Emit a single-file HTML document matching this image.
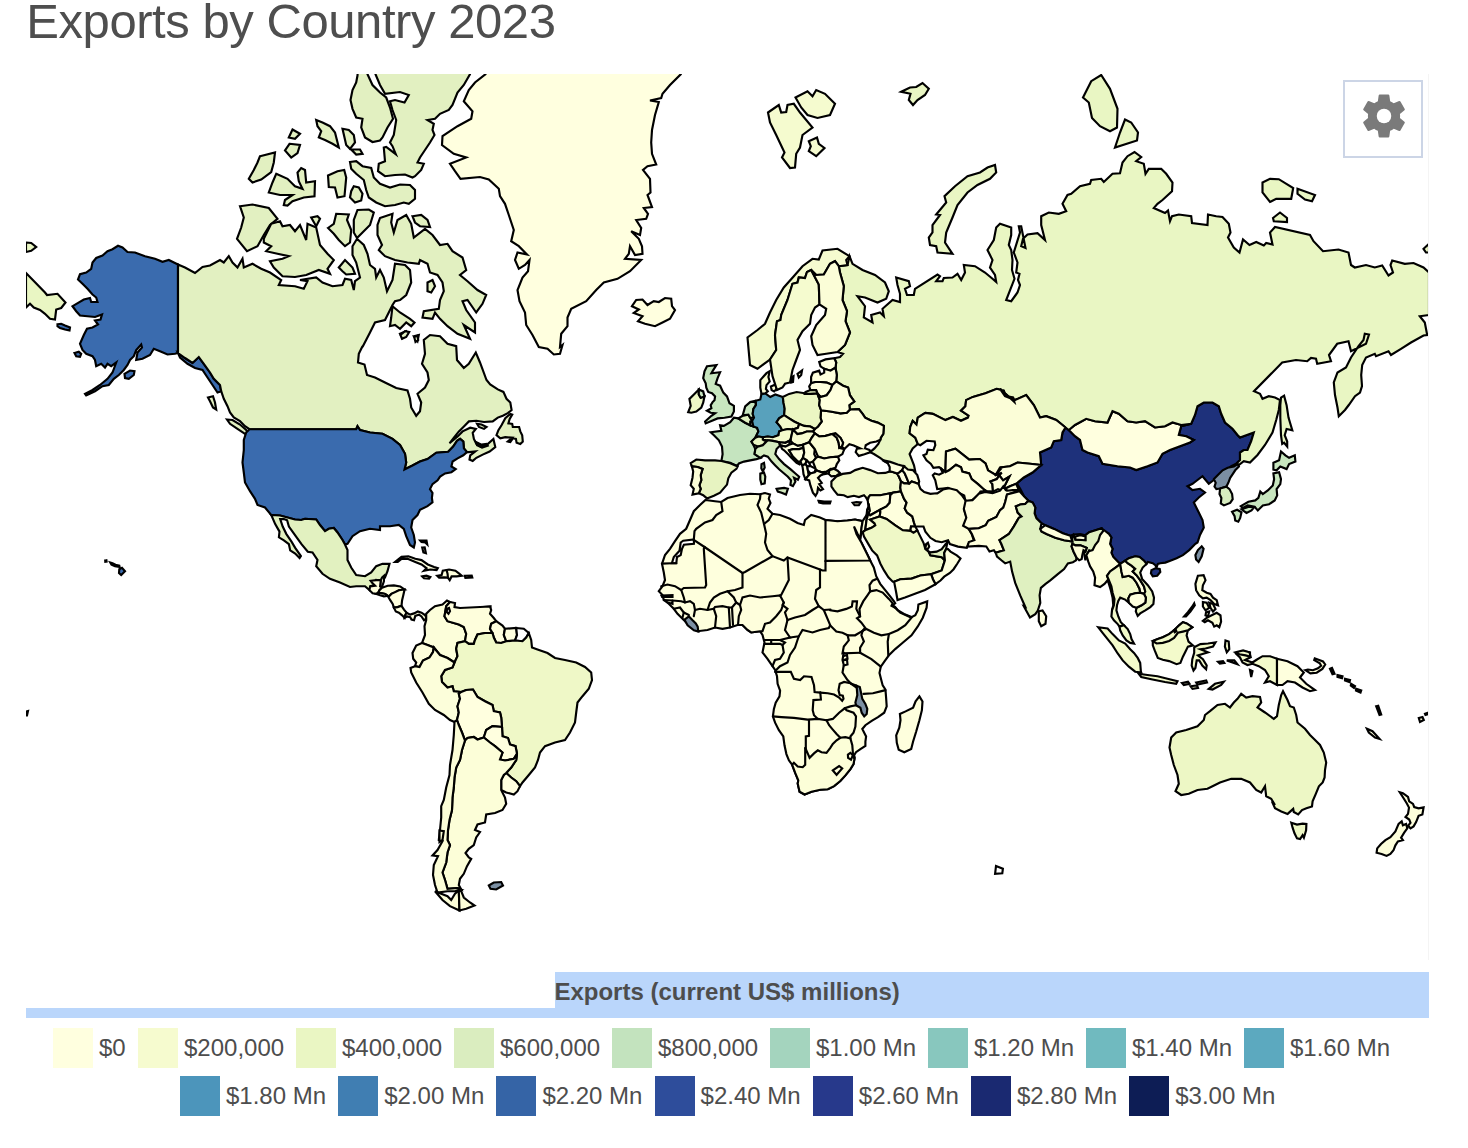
<!DOCTYPE html>
<html><head><meta charset="utf-8"><title>Exports by Country 2023</title>
<style>
html,body{margin:0;padding:0;background:#fff;}
body{width:1468px;height:1148px;position:relative;overflow:hidden;font-family:"Liberation Sans",sans-serif;color:#4d4d4d;}
#title{position:absolute;left:26.3px;top:-6.6px;font-size:49px;line-height:56px;color:#4e4e4e;white-space:nowrap;letter-spacing:-0.44px}
#map{position:absolute;left:0;top:0;width:1468px;height:1148px;}
#map path{stroke:#000;stroke-width:2.15;stroke-linejoin:miter;stroke-miterlimit:4;stroke-linecap:round}
#gear{position:absolute;left:1343px;top:80px;width:76px;height:74px;border:2px solid #ccd5e6;background:#fff;}
#hl1{position:absolute;left:555px;top:972px;width:874px;height:46px;background:#bad6fb}
#hl2{position:absolute;left:26px;top:1008px;width:1403px;height:10px;background:#bad6fb}
#ltitle{position:absolute;left:554.4px;top:978.4px;font-size:24px;line-height:28px;font-weight:bold;color:#4d4d4d;white-space:nowrap}
.sw{position:absolute;width:40px;height:40px}
.lb{position:absolute;font-size:24px;line-height:40px;height:40px;white-space:nowrap;color:#4d4d4d}
#vline{position:absolute;left:1428px;top:74px;width:1px;height:886px;background:#f4f4f4}
</style></head><body>
<div id="title">Exports by Country 2023</div>
<svg id="map" width="1468" height="1148" viewBox="0 0 1468 1148">
<defs><clipPath id="cp"><rect x="26" y="74.1" width="1403" height="890"/></clipPath></defs>
<g clip-path="url(#cp)">
<path d="M178,264.5L168.8,260L162.5,261.8L155,258.8L145,256.2L135,252.5L127.5,252L122.5,247.5L118,245.8L112.5,249.2L107.5,251.2L102.5,255.5L96.2,258L92.5,262.5L91.2,268.8L86.2,272.5L80,274.2L78,279.5L82.5,283.8L87.5,288.8L92.5,294.5L96.2,297.5L97.5,302L91.2,302L90,298L83.8,299.5L72.5,306.2L76.2,311.2L80,315.5L87.5,316.2L95,317L102,314.5L100.5,319.5L95,320.5L98,324.5L92.5,327.5L87,328.8L83.8,335L80,343.8L82.5,350L86.2,353.8L92.5,356.2L95,360L96.2,366.2L101.2,363.8L105,367.5L107.5,363.8L111.2,366.2L116.2,362.5L112.5,372.5L107.5,378.8L100,385L92.5,390L85,393.8L86.2,395.5L95,391.2L102.5,386.2L108.8,385L113.8,378.8L118.8,375L123.8,370L127.5,365L130,360L133.8,356.2L136.2,350L141.2,344.5L142,347.5L137.5,352.5L136.2,360L142.5,358.8L150,355L153.8,348.8L160,351.2L167.5,354.5L175,353.8L178,353Z" fill="#3a6bae"/>
<path d="M178,353L185,358L192.5,363L198.8,357L203.8,363.8L210,372.5L213.8,378.8L220,385L221.2,391.2L217.5,392.5L212.5,385L207.5,377.5L202.5,370L195,368L187.5,363.8L180,357.5Z" fill="#3a6bae"/>
<path d="M124.5,373.8L130,370.5L134.5,371.2L133.8,375L128.8,378.8L125,378Z" fill="#3a6bae"/>
<path d="M74.5,353L78.8,351.8L81.2,353.8L80,356.8L76.2,356.2Z" fill="#3a6bae"/>
<path d="M57.5,324.2L61.2,323.8L65,325.5L70,327.5L69.5,330.5L65,329.5L60,328L57.5,326.2Z" fill="#3a6bae"/>
<path d="M26,273L45,292.5L47,295L57.5,293.8L65.5,302.5L61.2,308L56.2,309.5L55,319.5L50,318.8L45,313.8L40,310L33.8,307.5L30,303.8L26,307.5Z" fill="#e9f6c3"/>
<path d="M26,242.5L31.2,243L36.2,247L31.2,250.8L26,252Z" fill="#e9f6c3"/>
<path d="M227,419.5L232.5,420L240,424.5L246.2,430L249.5,436.2L245,433.8L237.5,428.8L230,423.8Z" fill="#e2f0c1"/>
<path d="M208,397.5L213,396.2L215,402.5L216.2,409.5L213,407.5L210,401.2Z" fill="#e2f0c1"/>
<path d="M357.5,75.5L358.8,55L367.5,55L367.5,74.2L372.5,85L380,92.5L386.2,97.5L390,107.5L393,118.8L387.5,127.5L382.5,137.5L380,140.5L372.5,142L365,137.5L361.2,127.5L362.5,118.8L356.2,117.5L352.5,108.8L350.5,100L352.5,90L356.2,82.5Z" fill="#e2f0c1"/>
<path d="M375.5,74.2L375.5,55L470,55L470,74.2L463.8,85L457.5,92.5L452.5,105L448.8,110L440,113.8L435,118.8L427.5,120L433.8,123.8L432.5,130L434.5,135L430,142.5L425,150L420,157.5L417.5,162.5L423.8,163.8L421.2,170L415,176.2L412.5,177.5L405,174.5L395,175L385,176.2L378,171.2L378.8,163.8L385,161.2L383.8,147.5L386.2,147L395.8,154.2L392.5,146.2L390,142.5L393.8,135L396.2,120L392.5,110L390,101.2L395,100L404.5,102.5L408.8,95L400,92L385,93.8L380,85Z" fill="#e2f0c1"/>
<path d="M350,162L356.2,161.2L362.5,166.2L371.2,168L373.8,177.5L380,183.8L390,187.5L400,184.5L410,185L415,190L415,198.8L408.8,203.8L403.8,202.5L395,205L385,206.2L376.2,202.5L368.8,197.5L366.2,190L363.8,180L356.2,173.8L351.2,168.8Z" fill="#e2f0c1"/>
<path d="M316.2,120L322.5,122.5L330,126.2L335,132.5L338.8,147.5L332.5,143.8L325,140L318.8,137.5L321.2,131.2L317.5,126.2Z" fill="#e2f0c1"/>
<path d="M342.5,128.8L348.8,130L353.8,135L355,142.5L350,148.8L346.2,145L344.5,137.5Z" fill="#e2f0c1"/>
<path d="M351.2,149.5L360,149.5L362.5,153.8L356.2,154.5Z" fill="#e2f0c1"/>
<path d="M292.5,129.5L300,133.8L295,138.8L288.8,137.5Z" fill="#e2f0c1"/>
<path d="M289.5,143.8L300,145L297.5,153L291.2,157.5L285,150.5Z" fill="#e2f0c1"/>
<path d="M260,156.2L275,152.5L273.8,162.5L271.2,172L261.2,179.5L252.5,182.5L248.8,178.8L253.8,170L257.5,162.5Z" fill="#e2f0c1"/>
<path d="M276.2,173.8L287.5,178.8L295,186.2L302.5,188.8L298.8,181.2L297.5,172.5L301.2,168L305,170L306.2,182.5L315,181.2L314.5,196.2L303.8,197.5L292.5,201.2L287.5,205.5L283.8,205L285,200L292.5,195L280,195L268.8,192.5L272.5,182.5Z" fill="#e2f0c1"/>
<path d="M328,175.5L337.5,171.2L344.2,170L346.2,177.5L344.5,196.2L337.5,197.5L335,187.5L328.8,187Z" fill="#e2f0c1"/>
<path d="M353.8,186.2L358.8,187.5L362.5,193.8L361.2,200.5L355,202.5L350,197.5L351.2,191.2Z" fill="#e2f0c1"/>
<path d="M240,206.2L252.5,204.5L268.8,208L277.5,218.8L270,225L263.8,235L257.5,246.2L247,251.2L237,238.8L241.2,227.5L243.8,217.5Z" fill="#e2f0c1"/>
<path d="M263.8,238.8L271.2,223.8L280,221.2L282.5,226.2L290,225L295,231.2L300,225L306.2,240L307.5,223.8L316.2,227.5L320,245L327.5,253.8L333.8,260L327.5,268.8L330,273.8L318.8,270L306.2,275L295,277L282.5,276.2L273.8,267.5L270,261.2L282.5,258.8L288.8,256.2L277.5,253.8L266.2,251.2L271.2,246.2L263.8,242.5Z" fill="#e2f0c1"/>
<path d="M311.2,217.5L317.5,216.2L320,218.8L316.2,226.2Z" fill="#e2f0c1"/>
<path d="M328,228L333.8,223.8L336.2,213.8L348.8,214.5L347,220L351.2,230L350,242.5L345,246.2L338.8,240L333.8,233.8Z" fill="#e2f0c1"/>
<path d="M357.5,210L368.8,209.5L373.8,212.5L370,225L362.5,232.5L357,238L353.8,232.5L353.8,220Z" fill="#e2f0c1"/>
<path d="M338.8,267.5L345,260L352.5,267.5L355,273.8L346.2,274.5L342.5,271.2Z" fill="#e2f0c1"/>
<path d="M380,218L392.5,213.8L391.2,222.5L393.8,232.5L397.5,220L406.2,215L411.2,223.8L413.8,237.5L425,228.8L432.5,235L440,245L447.5,243.8L452.5,251.2L462.5,257.5L466.2,270L460,275L467.5,281.2L477.5,290L486.2,295L482.5,303.8L476.2,312.5L467.5,300L462.5,301.2L466.2,310L475,322.5L475,332.5L463.8,325L470,338.8L457.5,333.8L447.5,326.2L440,318.8L435,312.5L432.5,318.8L422.5,317.5L423.8,311.2L438.8,308.8L440,300L443.8,291.2L442.5,282.5L437.5,275L430,272.5L427.5,263.8L420,260L418.8,263.8L407.5,262.5L395,260L385,256.2L378.8,250L382,245L377.5,235L377.5,225Z" fill="#e2f0c1"/>
<path d="M412.5,216.2L421.2,215L427.5,220L430,227L420,226.2L415,222.5Z" fill="#e2f0c1"/>
<path d="M427.5,282.5L432.5,280L435,286.2L431.2,292.5L427.5,291.2Z" fill="#e2f0c1"/>
<path d="M392.5,306.2L400,312.5L410,318.8L414.5,322.5L411.2,326.2L406.2,322.5L400,328.8L395,325L390,326.2L391.2,317.5Z" fill="#e2f0c1"/>
<path d="M400,333.8L406.2,331.2L407.5,333.8L402.5,338Z" fill="#e2f0c1"/>
<path d="M413.8,336.2L418.8,335L417.5,341.2Z" fill="#e2f0c1"/>
<path d="M178,264.5L185,267.5L195,273L202.5,267L210,265.5L220,260L223.8,262.5L228.8,256.2L232.5,262.5L237.5,267.5L242.5,258.8L243.8,267.5L252.5,263.8L261.2,268.8L270,272.5L281.2,280L278.8,285L295,286.2L303.8,288.8L307.5,281.2L300,280L316.2,277.5L322.5,282.5L332.5,286.2L342.5,285L345,278.8L351.2,280L353.8,290L355,281.2L360,277.5L356.2,262.5L352.5,255L352.5,246.2L357,238.8L363.8,245L367.5,253.8L370,265L375,268.8L376.2,277.5L380,270L383.8,277.5L387,291.2L392.5,280L395,263.8L405,265L410,270L411.2,282.5L406.2,295L400,300L395,301.2L392.5,305L385,320L375,322.5L370,332.5L362.5,347L362.5,346.2L358.8,353.8L358,362.5L364.5,364.5L367,375L375,377.5L385,382.5L396.2,388L407.5,390.5L410,398.8L411.2,407.5L416.2,415.8L420,411.2L421.2,402.5L417.5,393.8L425,387.5L428.8,380L427.5,372.5L422,363.8L425,353.8L423.8,340L430,335L440,336.2L447.5,343.8L456.2,346.2L457,360L463.8,368L468.8,363.8L475.8,352.5L480,362.5L486.5,380L490.2,384.4L497.8,389.4L503.4,391.9L506.5,398.8L510.3,402.6L511.6,410.1L507.8,413.2L502.8,415.7L497.8,417.6L492.7,421.4L484,422L476.4,420.8L468.9,421.4L463.9,426.4L458.9,431.4L453.9,437.7L449.5,443.3L457.6,436.4L462.6,431.4L470.2,427.7L475.8,428.9L472.7,432.7L473.9,438.9L476.4,444L481.5,447.1L487.7,444L493.4,438.9L495.3,447.1L489.6,451.5L482.7,454.6L476.4,457.8L472.7,460.9L469.5,459.6L470.2,455.3L475.2,451.5L468.9,452.1L467,452.1L463.9,448.4L463.3,441.5L460.1,438.9L457,440.8L453.2,446.5L448.2,451.7L436.3,452.7L427.5,459L420,461.5L412.5,465.5L404.5,469.5L406.2,462.5L405,453.8L400,445L392.5,438.8L382.5,433.8L370,432.5L360,430L357.5,426.2L356.2,429.2L249.5,429.2L245,426.2L240,421.2L233.8,417.5L230,412.5L227.5,406.2L223.8,398.8L221.2,391.2L220,385L213.8,378.8L210,372.5L203.8,363.8L198.8,357L192.5,363L185,358L178,353Z" fill="#e2f0c1"/>
<path d="M496.5,435.2L498.4,430.2L501.5,425.2L505.3,418.3L510.3,413.9L512.2,414.5L509.7,418.9L508.4,423.3L512.2,423.9L512.8,427L519.1,427L520.3,431.4L522.2,435.2L522.8,441.5L520.3,444L516.6,442.7L515.9,438.9L512.8,438.3L510.3,442.1L507.8,441.5L512.2,437.7L505.3,437.1L500.3,438.3Z" fill="#e2f0c1"/>
<path d="M477.1,423.9L481.5,424.5L486.5,427L484,428.9L478.9,427Z" fill="#e2f0c1"/>
<path d="M476.4,442.1L481.5,444.6L486.5,444L487.7,445.8L482.1,447.7L477.1,445.2Z" fill="#e2f0c1"/>
<path d="M400.5,335L405,331.2L409.2,332L406.2,337L402,338.8Z" fill="#e2f0c1"/>
<path d="M414.2,337L417.5,335.8L418.2,340L415.5,342Z" fill="#e2f0c1"/>
<path d="M249.5,429.2L356.2,429.2L357.5,426.2L360,430L370,432.5L382.5,433.8L392.5,438.8L400,445L405,453.8L406.2,462.5L404.5,469.5L412.5,465.5L420,461.5L427.5,459L436.3,452.7L448.2,451.7L453.2,446.5L457,440.8L460.1,438.9L463.3,441.5L463.9,448.4L467,452.1L463.3,455.3L457.6,458.4L452.6,461.5L451.4,466.5L455.7,469.1L451.4,472.2L445.1,473.4L440.1,476.6L437.6,480.3L432.5,484.1L430,489.1L432.5,492.9L431.9,497.9L432.5,502.3L427.5,506.1L420,509.8L417.5,515L412.5,520L411.2,527.5L413.8,535L415,542.5L413.8,547.5L410,545L406.2,536.2L403.8,528.8L398.8,525L390,526.2L380,526.2L380,530L370,528.8L360,531.2L352.5,536.2L347.5,543.8L345,544.5L342.5,540L337.5,532.5L333.8,528L328.8,528.8L325,531.2L320,525L316.2,519.5L305,518.8L301.2,520L295,519.5L280,515.5L271.2,515L265,507.5L257.5,505L255,498.8L250,491.2L245,482.5L243.8,472.5L242.5,462.5L243.8,450L243.8,440L246.2,432.5Z" fill="#3a6bae"/>
<path d="M271.2,515L280,515.5L295,519.5L301.2,520L305,518.8L316.2,519.5L320,525L325,531.2L328.8,528.8L333.8,528L337.5,532.5L342.5,540L345,544.5L347.5,550L347.5,560L351.2,567.5L356.2,575L365,576.2L371.2,572.5L376.2,566.2L382.5,563.8L389.5,563.8L387.5,571.2L385,577.5L382.5,580.5L376.2,580L375,585L370.5,586.2L369.5,590L365,586.2L356.2,586.2L350,587L340,582.5L330,578.8L322.5,573.8L316.2,566.2L317.5,560L312.5,552.5L307.8,551.7L301.5,544.2L295.2,535.4L288.9,526.6L287.1,520.3L283.9,519.1L280.2,519.1L282.7,526.6L286.4,534.1L291.5,541.7L295.2,547.9L300.9,556.1L299.6,558L295.2,553.6L290.2,550.4L288.9,544.2L283.9,540.4L278.9,537.3L279.5,531.6L275.2,524.1L271.4,515.3Z" fill="#e2f1c0"/>
<path d="M395.2,561.9L401.5,556.9L408.4,556.3L415.3,558.8L421.5,560.1L427.8,564.5L434.1,567L437.8,568.2L436.6,570.1L430.3,569.5L424,570.7L426.5,568.2L421.5,564.5L415.3,561.9L407.7,558.8L401.5,558.8L397.7,561.9Z" fill="#feffdd"/>
<path d="M422.2,576.4L426.5,575.7L430.3,577L429.1,578.6L424,578.3Z" fill="#feffdd"/>
<path d="M437.2,575.7L441.6,575.1L442.8,570.7L449.1,569.5L455.4,570.7L459.2,573.6L461.7,575.7L456.6,576.4L451.6,576.4L449.7,580.1L447.9,577.6L444.1,577.4L439.1,577.6Z" fill="#feffdd"/>
<path d="M464.8,575.7L471.7,575.5L472.3,577.6L465.4,578Z" fill="#feffdd"/>
<path d="M420.3,540.6L426.5,540.6L427.2,544.4L425.3,542.5L421.5,541.9Z" fill="#feffdd"/>
<path d="M422.2,547.5L424.7,547.3L425.9,553.2L423.4,552.5Z" fill="#feffdd"/>
<path d="M483,607.1L490.5,606.5L489.9,610.2L484.2,610.2Z" fill="#feffdd"/>
<path d="M382,577.6L384.1,575.7L383.9,581.4L382,587L380.1,586.4L380.8,580.1Z" fill="#feffdd"/>
<path d="M369.5,590.2L370.1,586.4L375.1,585.8L372.6,583.3L370.7,580.8L376.4,580.1L380.8,580.1L380.1,586.4L382,587.7L379.5,590.2L378.3,592.7L376.4,593.9L372.6,593.3Z" fill="#feffdd"/>
<path d="M382,587.7L387.7,585.8L393.9,585.4L400.2,586.4L404.6,589.5L398.9,590.2L395.2,592.1L391.4,593.9L388.9,596.4L387.7,595.8L385.2,593.9L382,593.3L378.3,592.7L379.5,590.2Z" fill="#feffdd"/>
<path d="M376.4,593.9L378.3,592.7L382,593.3L385.2,593.9L387.7,595.8L383.9,596.4L380.1,595.2Z" fill="#feffdd"/>
<path d="M404.6,589.5L403.3,595.2L402.1,600.2L401.5,605.8L397.7,607.1L393.9,607.7L392.7,604L390.2,600.2L387.7,595.8L388.9,596.4L391.4,593.9L395.2,592.1L398.9,590.2Z" fill="#feffdd"/>
<path d="M401.5,605.8L404,609.6L406.5,612.7L405.2,615.3L404.6,617.8L402.1,615.3L398.9,612.7L395.8,611.5L393.9,607.7L397.7,607.1Z" fill="#feffdd"/>
<path d="M406.5,612.7L410.2,614.6L414,613.4L417.8,611.5L421.5,612.7L425.3,615.3L426.5,618.4L424,620.3L421.5,616.5L419,614.6L415.3,615.9L414,620.3L411.5,619.6L410.2,617.1L407.1,616.5L404.6,617.8L405.2,615.3Z" fill="#feffdd"/>
<path d="M426.2,613.8L430,610L435,606.2L442.5,604.5L447,600.5L450,602L450,602L446.2,606.2L444.5,616.2L447.5,621.2L458.8,624.5L463.8,627L466.2,633.8L465,641.2L465,641.2L457.5,643L456.2,648.8L457.5,656.2L454.5,662.5L454.5,662.5L447.5,658L440,655L433.8,647.5L433.8,647.5L427.5,645L422,643L422,643L425,635L424.5,626.2L426.2,620L426.2,613.8Z" fill="#fcfeda"/>
<path d="M450,602L455,603L454.5,607L460,608L470,607.5L480,607L490,606.5L491.2,610L490,613.8L493.8,618L496.2,621.2L496.2,621.2L491.2,623.8L490,628.8L492.5,633L492.5,633L485,633L477.5,634.5L475,640L473.8,643.8L468.8,643.8L465,641.2L465,641.2L466.2,633.8L463.8,627L458.8,624.5L447.5,621.2L444.5,616.2L446.2,606.2L450,602Z" fill="#fefedc"/>
<path d="M447,608.8L449,608L450,611.2L448.5,613.8L446.8,612Z" fill="#ffffff"/>
<path d="M496.2,621.2L502.5,625.5L505,628.8L505,628.8L503.8,635L506.2,641.2L506.2,641.2L501.2,643L496.2,642.5L493.8,637.5L492.5,633L492.5,633L490,628.8L491.2,623.8L496.2,621.2Z" fill="#ffffdf"/>
<path d="M505,628.8L516.2,628L516.2,628L517,635L515,640.5L515,640.5L506.2,641.2L506.2,641.2L503.8,635L505,628.8Z" fill="#ffffdf"/>
<path d="M516.2,628L523.8,628.8L528.8,633L528.8,633L526.2,637.5L522.5,641.2L515,640.5L515,640.5L517,635L516.2,628Z" fill="#ffffff"/>
<path d="M528.8,633L531.2,640L532,647.5L537.5,649.5L547.5,653L555,658L565,660L576.2,662.5L585,667L591.2,672.5L592,680L588.8,688.8L582.5,696.2L577.5,702.5L576.2,712.5L575,722.5L570,732.5L565,740L555,742.5L545,746.2L540,752.5L538,760L535,767.5L528.8,775L522.5,782.5L520,786.2L520,786.2L516.2,781.2L511.2,777.5L506.2,773L506.2,773L511.2,767.5L516.2,760L517,753.8L517,753.8L515.5,746.2L510,744.5L508,738L502.5,736.2L502,727L502,727L501.2,717.5L500,712.5L493.8,711.2L492.5,705L485,701.2L477.5,697L473,689.5L466.2,690L461.2,692L461.2,692L453.8,691.2L452.5,686.2L447.5,687.5L442,682L441.2,676.2L445,670L452.5,667.5L454.5,662.5L454.5,662.5L457.5,656.2L456.2,648.8L457.5,643L465,641.2L465,641.2L468.8,643.8L473.8,643.8L475,640L477.5,634.5L485,633L492.5,633L492.5,633L493.8,637.5L496.2,642.5L501.2,643L506.2,641.2L506.2,641.2L515,640.5L515,640.5L522.5,641.2L526.2,637.5L528.8,633Z" fill="#eff8c7"/>
<path d="M422,643L416.2,645.5L412.5,653L413.2,658.8L416.2,662.5L415,666.2L415,666.2L419.5,667L423,660.5L429.5,657.5L433,652L433.8,647.5L433.8,647.5L427.5,645L422,643Z" fill="#fefedc"/>
<path d="M415,666.2L410.5,668L411.2,672.5L416.2,682.5L422.5,692.5L428.8,703.8L435,710L443.8,715L450,720L454.5,722L454.5,722L457,720L457,720L458.8,712.5L457.5,706.2L460,698.8L458.8,693.8L461.2,692L461.2,692L453.8,691.2L452.5,686.2L447.5,687.5L442,682L441.2,676.2L445,670L452.5,667.5L454.5,662.5L454.5,662.5L447.5,658L440,655L433.8,647.5L433.8,647.5L433,652L429.5,657.5L423,660.5L419.5,667L415,666.2Z" fill="#fcfeda"/>
<path d="M461.2,692L466.2,690L473,689.5L477.5,697L485,701.2L492.5,705L493.8,711.2L500,712.5L501.2,717.5L502,727L502,727L492.5,726.2L486.2,730L483.8,737.5L483.8,737.5L477.5,739.5L473.8,737L467.5,738L465,740.5L465,740.5L462,732.5L458.8,725L457,720L457,720L458.8,712.5L457.5,706.2L460,698.8L458.8,693.8L461.2,692Z" fill="#ffffdf"/>
<path d="M483.8,737.5L486.2,730L492.5,726.2L502,727L502,727L502.5,736.2L508,738L510,744.5L515.5,746.2L517,753.8L517,753.8L513.8,758.8L505,760.5L500,759.5L502.5,752.5L495,746.2L490,742.5L483.8,737.5Z" fill="#ffffdf"/>
<path d="M506.2,773L511.2,777.5L516.2,781.2L520,786.2L520,786.2L517.5,791.2L513.8,794.5L506.2,792.5L501.2,790L501.2,790L501.2,780L503.8,775L506.2,773Z" fill="#ffffdf"/>
<path d="M465,740.5L467.5,738L473.8,737L477.5,739.5L483.8,737.5L483.8,737.5L490,742.5L495,746.2L502.5,752.5L500,759.5L505,760.5L513.8,758.8L517,753.8L517,753.8L516.2,760L511.2,767.5L506.2,773L506.2,773L503.8,775L501.2,780L501.2,790L501.2,790L505,797.5L506.2,803.8L502.5,810L495,813L486.2,814.5L485,822.5L477.5,824.5L475,830L480,832L476.2,837.5L473.8,845L468.8,848.8L465.5,853L468.8,857.5L471.2,858.8L467,866.2L463.8,873.8L460,878.8L458.8,885L461.2,889.5L461.2,889.5L457.5,888L447.5,888.8L445,880L442.5,872.5L446.2,862.5L447.5,852.5L450,845L447.5,840L448,830L449.5,820L452,810L452.5,797.5L453.8,787.5L454.5,777.5L456.2,767.5L460,760L462,750L465,740.5Z" fill="#fcfed8"/>
<path d="M457,720L458.8,725L462,732.5L465,740.5L465,740.5L462,750L460,760L456.2,767.5L454.5,777.5L453.8,787.5L452.5,797.5L452,810L449.5,820L448,830L447.5,840L450,845L447.5,852.5L446.2,862.5L442.5,872.5L445,880L447.5,888.8L457.5,888L461.2,889.5L455,891.2L447.5,891.2L437.5,892.5L437.5,892.5L435,885L433,875L433.8,865L438,856.2L432.5,855.5L437.5,850L442.5,841.2L438.8,840L440,830L441.2,817.5L441.2,806.2L443.8,800L446.2,787.5L449.5,775L450,765L452.5,750L453.8,735L454.5,722L454.5,722L457,720Z" fill="#fbfdd7"/>
<path d="M439.5,830.5L443.8,831.2L442.5,840L439.5,842Z" fill="#fbfdd7"/>
<path d="M435,891.2L442.5,900L450,906.2L459.5,910.5L458.8,890.5L455,893.8L451.2,900L447.5,896.2L441.2,893.8Z" fill="#fbfdd7"/>
<path d="M458.8,890.5L459.5,910.5L466.2,908.8L474.5,905.5L470,902.5L463.8,897.5L461.2,891.2Z" fill="#fcfed8"/>
<path d="M488.8,885.5L493.8,882.5L501.2,882L503,885.5L496.2,889.5L490.5,888.8Z" fill="#7b8fa3"/>
<path d="M485.5,55L485.5,74.2L475,82.5L468.8,90L463.8,101.2L472.5,111.2L471.2,118.8L457.5,126.2L442.5,136.2L442,145L453.8,153.8L466.2,157.5L450,163.8L455,171.2L460.5,178.8L480,177L488.8,179.5L498.8,188.8L500,196.2L505,203.8L508.8,215L513.8,230L511.2,241.2L518.8,246.2L527,254.5L517.5,252.5L515,260L518.8,268.8L525,265L529.5,260L528,271.2L522.5,277.5L517.5,290L519.5,301.2L525,312.5L526.2,325L532.5,335L538.8,347L547.5,348.8L553.8,354.5L560,353.8L562.5,345L560,347L561.2,333.8L567.5,326.2L567.5,317.5L571.2,308.8L586.2,301.2L596.2,290L603.8,282.5L617.5,278.8L630,271.2L641.2,260L625,258.8L628.8,253.8L630,246.2L635,255L642.5,253.8L642,246.2L638.8,238.8L631.2,231.2L640,235L641.2,228L636.2,220L646.2,218.8L648,213.8L643.8,208L652,207L647.5,195L650.5,192.5L650,178.8L643,170L647.5,166.2L656.2,164.5L652,153.8L651.2,142.5L652,130L655,115L658.8,102L650,100.5L661.2,98L662.5,93.8L670,85L680.8,74.2L680.8,55Z" fill="#ffffdf"/>
<path d="M632,306.2L636.2,300L642.5,299.5L647.5,305L653.8,301.2L658.8,302L665,298L671.2,298.8L672,306.2L675,310L670,318.8L662.5,322.5L655,326.2L645,323.8L638,321.2L642.5,316.2L633.8,313L638.8,309.5Z" fill="#ffffdf"/>
<path d="M1016.2,483.8L1023.8,477.5L1032.5,472.5L1041.2,465L1040,452.5L1051.2,447.5L1053.8,441.2L1061.2,440L1062.5,432.5L1065.5,427.5L1068.8,430L1068.8,430L1075,436.2L1080,440L1082.5,450L1087.5,452.5L1098.8,456.2L1102.5,463.8L1117.5,466.2L1130,467.5L1136.2,470L1147.5,466.2L1157.5,462.5L1162.5,453.8L1170,450L1180,446.2L1190,442.5L1193.8,440L1186.2,436.2L1178.8,435L1181.2,426.2L1191.2,423.8L1191.2,423.8L1195,415L1197.5,406.2L1203.8,402.5L1212.5,402.5L1218.8,406.2L1221.2,413.8L1225,422.5L1232.5,428.8L1237.5,435L1240,437.5L1253.8,432.5L1251.2,441.2L1247.5,450L1243.8,450L1240,452.5L1240,460L1236.2,463.8L1236.2,463.8L1231.2,466.2L1226.2,470L1220,475L1213.8,480L1213.8,480L1208.8,483.8L1202.5,476.2L1197.5,480L1192.5,483.8L1187.5,486.2L1192.5,490L1200,488.8L1205,492.5L1198.8,497.5L1193.8,502.5L1198.8,512.5L1202.5,520L1203.8,527.5L1200,535L1197.5,542.5L1195.4,543.8L1189.2,550.1L1182.9,555.1L1176.6,558.2L1170.3,560.7L1165.3,562.6L1160.3,563.2L1157.8,563.9L1156.5,567.6L1155.3,565.1L1152.8,563.2L1147.8,562L1146.5,563.9L1146.5,563.9L1144,560.7L1139.6,557L1135.2,556.3L1128.9,558.2L1125.2,560.7L1120.2,563.9L1117.7,561.4L1113.3,557L1111.4,552.6L1112.6,548.8L1110.1,543.8L1111.4,537.5L1108.9,533.8L1106.1,535.2L1104.2,531.5L1101.7,528.3L1095.5,530.2L1089.2,532.1L1085.4,535.2L1080.4,534L1073.5,534.6L1070.4,535.8L1062.8,533.3L1054.1,528.9L1045.3,525.2L1041.5,523.3L1036.5,518.3L1034.6,513.3L1035.3,507.6L1032.7,502.6L1028.4,500.7L1024,496.3L1020.2,488.8L1015.8,481.9L1016.2,483.8Z" fill="#1e317b"/>
<path d="M1151.5,570.1L1155.3,568.3L1159.7,568.9L1160.3,572L1157.2,575.8L1152.8,576.4L1150.9,573.3Z" fill="#1e317b"/>
<path d="M1195.4,555.1L1197.9,550.1L1201.7,546.3L1203.6,548.8L1201.7,556.3L1198.6,562L1196.1,559.5Z" fill="#7b8fa3"/>
<path d="M1068.8,430L1075,425L1086.2,418.8L1095,421.2L1107.5,422.5L1112.5,411.2L1118.8,413.8L1127.5,421.2L1136.2,422.5L1145,421.2L1155,427.5L1165,426.2L1172.5,422.5L1181.2,425L1191.2,423.8L1191.2,423.8L1181.2,426.2L1178.8,435L1186.2,436.2L1193.8,440L1190,442.5L1180,446.2L1170,450L1162.5,453.8L1157.5,462.5L1147.5,466.2L1136.2,470L1130,467.5L1117.5,466.2L1102.5,463.8L1098.8,456.2L1087.5,452.5L1082.5,450L1080,440L1075,436.2L1068.8,430Z" fill="#ffffdf"/>
<path d="M849.5,256.2L852.5,263.8L862.5,270L875,275L885,282.5L888.8,291.2L886.2,298.8L877.5,302.5L865,297.5L857.5,296.2L865,306.2L863.8,317.5L872.5,322.5L871.2,315L880,312.5L883.8,316.2L882.5,308.8L892.5,300L900,302L900,293.8L897.5,285L896.2,277.5L908.8,281.2L910,286.2L905,288.8L907,295L913.8,295L915,288.8L937.5,274.5L940,276.2L936.2,281.2L942.5,281.2L943.8,278L952.5,277.5L957.5,273.8L961.2,280L965,272.5L963.8,265L975,266.2L985,272.5L992.5,278.8L996.2,282L995,275L990,267.5L992.5,260L987.5,250L993.8,240L996.2,227.5L1000,223.8L1011.2,227.5L1011.2,235L1008.8,245L1011.2,250L1012.5,260L1012,270L1014.5,278.8L1006.2,300L1011.2,301.2L1017.5,292.5L1020,285L1018,280L1019.5,273.8L1016.2,272.5L1017.5,262.5L1013.8,252.5L1020,232.5L1018.8,226.2L1021.2,226.2L1025.5,248L1021.2,246.2L1023,238.8L1027.5,234.5L1037.5,233.2L1045,240L1041.2,225L1041.2,216.2L1048.8,212.5L1058.8,213.8L1066.2,211.2L1062.5,203.8L1067.5,195L1071.2,193.8L1080,186.2L1090,183.8L1091.2,180L1101.2,178.8L1103.8,182L1112.5,173.8L1120,173.2L1122.5,162.5L1127.5,156.2L1134.5,152L1141.2,157L1136.2,161.2L1143.8,163.8L1145.5,173.8L1148.8,168.8L1161.2,168.8L1166.2,173.8L1172.5,182.5L1172,191.2L1162.5,200L1157.5,203.8L1153.8,208L1165,213L1168,210.5L1170,221.2L1172,216.2L1178.8,214.5L1191.2,216.2L1192,223L1207.5,225L1208,214.5L1216.2,216.2L1222.5,217L1228.8,223.8L1230.5,232.5L1228,237.5L1233.8,247.5L1239.5,252.5L1243,239.5L1249.5,245L1256.2,242L1263.8,245.5L1266.2,243L1272.5,244.5L1270,232.5L1275,227L1310,235L1313.5,241.2L1323,251.2L1338.5,249.5L1348.5,252.5L1351,265L1354.8,267.5L1366,265L1374.8,267.5L1382.2,265.5L1388.5,275.5L1393,272.5L1390.5,265L1392.2,260.5L1404.8,263.8L1413.5,263L1423.5,267.5L1429,272.5L1429,315L1419.8,316.2L1424.8,322.5L1427.2,335L1423.5,335.5L1411,342.5L1401,348.8L1391,355L1388.5,351.2L1376,356.2L1374.8,353.8L1366,357.5L1362.2,365L1361.2,375L1362,386.2L1360,392.5L1355,396.2L1348.8,405L1345,410L1338.8,416.2L1337.5,407.5L1335,395L1333.8,382.5L1337.5,372.5L1346,367.5L1351,357.5L1358.5,346.2L1363.5,340L1364.8,333.8L1369,334.5L1366,343.8L1351,351.2L1348.5,341.2L1337.2,343.8L1329,355L1331,361.2L1317.2,363.8L1316,358.8L1311,358L1307.2,361.2L1296,360L1282.2,362.5L1254,391.2L1260,393.8L1262.5,398.8L1268.8,396.2L1275,397.5L1280,400L1278.8,410L1276.2,420L1272.5,432.5L1265,445L1257.5,455L1250,462.5L1243.8,461.2L1238.8,465L1236.2,463.8L1240,460L1240,452.5L1243.8,450L1247.5,450L1251.2,441.2L1253.8,432.5L1240,437.5L1237.5,435L1232.5,428.8L1225,422.5L1221.2,413.8L1218.8,406.2L1212.5,402.5L1203.8,402.5L1197.5,406.2L1195,415L1191.2,423.8L1191.2,423.8L1181.2,425L1172.5,422.5L1165,426.2L1155,427.5L1145,421.2L1136.2,422.5L1127.5,421.2L1118.8,413.8L1112.5,411.2L1107.5,422.5L1095,421.2L1086.2,418.8L1075,425L1068.8,430L1065.5,427.5L1062.5,425L1056.2,420L1046.2,416.2L1040,417.5L1033.8,405L1026.2,395L1015,400L1005,396.2L1000,388.8L1014.3,401.9L1013.1,397.6L1005.6,395.7L1003.7,390.7L996.8,388.8L985.5,393.2L972.9,396.9L966.1,400.1L965.4,406.3L961,410.7L968.6,415.7L967.9,417.6L961,420.8L952.9,417L945.4,420.1L932.8,413.9L925.3,412.9L917.8,417.6L916.5,424.5L912.7,420.8L910.2,427L909.6,433.3L915.3,437.7L917.8,444L912.7,448.4L909.6,454L912.1,460.3L914,465.3L915.3,471.6L910.2,473.4L906.5,470.3L902.7,466.5L896.4,465.3L890.2,463.4L885.2,461.5L880.1,457.8L873.9,454L870.1,452.1L874.5,448.4L878.3,444L880.4,439.7L880.8,437.7L883.3,433.9L883.9,425.8L877.6,422.6L871.4,420.8L865.1,417.6L862.6,413.9L858.8,409.1L851.3,409.5L849.9,409.6L849.3,405.2L854.3,401.4L849.9,395.2L848.1,387.6L843.1,385.7L836.2,381.4L836.8,375.1L835.5,367.6L836.2,362.5L834.3,358.2L834.2,358.2L840,357L843,353.8L837.5,352L845,345L850,332.5L845.5,321.2L847,311.2L842.5,300L843.8,286.2L840,272.5L838.8,266.2L847.5,265L849.5,256.2Z" fill="#e9f6c3"/>
<path d="M1429,243.8L1423.5,248.8L1426,252.5L1429,252.5Z" fill="#e9f6c3"/>
<path d="M1083,97.5L1091.2,81.2L1101.2,75L1110,88.8L1117.5,108.8L1117,127.5L1110,131.2L1100,126.2L1092,118L1088.8,102.5Z" fill="#e9f6c3"/>
<path d="M1125,119.5L1131.2,122.5L1138,132.5L1137,140.5L1115,147.5L1120,132.5Z" fill="#e9f6c3"/>
<path d="M1262.5,182.5L1270,178.8L1278.8,179.2L1293.2,188L1291.2,198.8L1276.2,198.8L1270,202L1262.5,192.5Z" fill="#e9f6c3"/>
<path d="M1297.5,188.8L1315,195L1312,201.2L1305,199.5L1297.5,193.8Z" fill="#e9f6c3"/>
<path d="M1273,218L1280,212.5L1287,218L1287,222L1273.8,221.2Z" fill="#e9f6c3"/>
<path d="M821.1,410.2L830.5,411.5L840.5,413.3L846.8,412.7L849.9,409.6L851.3,409.5L858.8,409.1L862.6,413.9L865.1,417.6L871.4,420.8L877.6,422.6L883.9,425.8L883.3,433.9L880.8,437.7L880.4,439.7L876.4,441.5L870.1,442.7L865.7,445.2L865.1,448.4L869.5,450L870.7,452.1L864.5,454.3L858.8,455.9L855.7,452.1L856.9,448.7L860.1,448.4L853.8,445.5L849.4,444.2L843.8,449.6L840,454L844.3,449.1L841.8,446.6L843.1,442.8L840.5,437.8L835.5,433.4L832.4,434L825.5,435.9L819.2,436.5L814.8,433.4L812.9,431.5L814.8,429L818,426.5L821.7,421.5L820.5,417.7Z" fill="#feffdd"/>
<path d="M917.8,444L915.3,437.7L909.6,433.3L910.2,427L912.7,420.8L916.5,424.5L917.8,417.6L925.3,412.9L932.8,413.9L945.4,420.1L952.9,417L961,420.8L967.9,417.6L968.6,415.7L961,410.7L965.4,406.3L966.1,400.1L972.9,396.9L985.5,393.2L996.8,388.8L1003.7,390.7L1005.6,395.7L1013.1,397.6L1014.3,401.9L1000,388.8L1005,396.2L1015,400L1026.2,395L1033.8,405L1040,417.5L1046.2,416.2L1056.2,420L1062.5,425L1065.5,427.5L1062.5,432.5L1061.2,440L1053.8,441.2L1051.2,447.5L1040,452.5L1041.2,465L1030,463.8L1017.5,462.5L1010,466.2L1000,467.5L995.5,475.3L994.3,474.1L988,470.3L985.5,463.4L979.8,459L969.2,459.6L955.4,448.7L946,451.5L945.4,472.2L940.3,467.8L939.1,467.2L933.4,467.8L930.9,464L926.5,460.3L923.4,455.3L926.5,454L927.8,449.6L933.4,450.2L935.3,445.2L934.7,441.5L926.5,440.8L920.3,445.2Z" fill="#fbfdd7"/>
<path d="M946,451.5L955.4,448.7L969.2,459.6L979.8,459L985.5,463.4L988,470.3L994.3,474.1L995.5,475.3L1001.8,472.8L999.3,475.3L996.8,479.1L990.5,481.6L992.4,484.1L993,491.6L986.1,491L984.2,489.7L978,484.1L971.7,479.1L969.2,473.4L962.3,471.6L961,467.2L956,464.7L949.1,470.3L945.4,472.2Z" fill="#feffdd"/>
<path d="M940.3,467.8L945.4,472.2L949.1,470.3L956,464.7L961,467.2L962.3,471.6L969.2,473.4L971.7,479.1L978,484.1L984.2,489.7L986.1,491L980.5,491.6L978,495.4L973.6,499.2L969.2,501.7L965.4,500.4L964.2,495.4L959.2,492.9L952.9,490.4L947.9,487.9L942.8,488.5L937.2,489.1L935.3,480.3L932.8,475.3L934.7,473.4L939.1,474.7L942.8,472.8Z" fill="#feffdd"/>
<path d="M995.5,475.3L1001.8,467.8L1000,467.5L1010,466.2L1017.5,462.5L1030,463.8L1041.2,465L1032.5,472.5L1023.8,477.5L1016.2,483.8L1010,486.2L1002.5,490L1009.3,476.6L1003.1,480.3L999.3,475.3L1001.8,472.8Z" fill="#feffdd"/>
<path d="M993,491.6L992.4,484.1L990.5,481.6L996.8,479.1L999.3,475.3L1003.1,480.3L1009.3,476.6L1002.5,490L1010,486.2L1016.2,483.8L1018.8,490L1018.8,491.2L1012.5,492.5L1006.8,490.4L1004.3,486.6L1001.8,490.4L998,489.1Z" fill="#feffdd"/>
<path d="M1213.9,479.1L1217.6,475.3L1222.6,470.3L1227.7,467.8L1233.9,466.5L1237.7,464L1238.9,466.5L1235.2,470.3L1232.7,474.1L1230.2,477.8L1228.3,482.8L1226.4,486.6L1220.1,488.5L1216.4,489.1L1214.5,486.6L1215.7,482.8Z" fill="#7b8fa3"/>
<path d="M1220.1,488.5L1226.4,486.6L1229.5,489.1L1232.1,494.1L1232.7,499.2L1230.2,502.9L1223.9,505.4L1220.8,503.5L1221.4,497.9L1219.5,494.1Z" fill="#d6ecbf"/>
<path d="M1240.8,506.1L1248.4,501.7L1255.3,500.4L1258.4,497.9L1260.3,491.6L1262.8,494.1L1267.8,490.4L1272.8,485.4L1274.1,479.1L1273.4,473.4L1279.1,472.2L1281,479.1L1280.3,484.1L1276.6,489.1L1277.2,495.4L1274.7,500.4L1269.1,504.2L1262.8,505.4L1257.8,510.4L1254.6,506.7L1247.7,505.4L1242.7,507.9Z" fill="#c8e6bf"/>
<path d="M1241.5,509.2L1249,506.7L1254,507.3L1251.5,510.4L1246.5,512.9L1244,511.1Z" fill="#c8e6bf"/>
<path d="M1232.1,511.7L1237.1,509.8L1241.5,512.3L1240.2,518L1238.3,521.7L1235.2,520.5L1234.6,516.1Z" fill="#c8e6bf"/>
<path d="M1273.4,462.8L1279.1,460.3L1281,451.5L1285.4,455.3L1289.1,457.8L1294.8,455.3L1295.4,461.5L1289.1,464L1286.6,469.1L1280.3,466.5L1276.6,470.3L1273.4,469.7Z" fill="#c8e6bf"/>
<path d="M1281,397.6L1284.1,395.7L1286.6,405.1L1288.5,417.6L1292.3,430.2L1286.6,428.9L1284.7,435.2L1287.2,441.5L1287.2,446.5L1284.1,442.7L1282.2,444L1281,435.2L1280.3,417.6L1280.3,405.1Z" fill="#e9f6c3"/>
<path d="M707,366.3L716.4,365.1L713.2,370.1L711.4,373.2L720.1,372.3L717.6,378.2L715.7,383.9L720.1,385.7L723.3,392.6L727,396.4L729.5,403.3L733.9,405.8L733.9,411.5L731.4,416.5L724.5,417.7L717.6,418.4L711.4,420.9L705.7,423.4L705.1,421.5L711.4,415.8L715.1,413.3L710.7,412.7L707,410.8L711.4,408.3L710.7,405.2L712.6,402.1L714.5,400.2L715.1,396.4L712,393.3L708.2,392L706.3,387.6L705.7,383.2L703.2,378.2L704.5,371.3Z" fill="#c8e6bf"/>
<path d="M688.2,412.1L690.7,405.8L689.4,398.9L694.4,393.9L698.8,389.5L698.8,394.5L700.7,397.7L704.5,396.4L703.2,402.7L701.3,407.7L696.3,411.5L691.3,412.7Z" fill="#edf7c5"/>
<path d="M698.8,389.5L703.2,391.4L704.5,396.4L700.7,397.7L698.8,394.5Z" fill="#c8e6bf"/>
<path d="M710.7,432.2L721.4,430.9L720.1,425.3L723.9,425.9L730.2,422.1L733.9,417.7L738.3,418.4L745.2,422.7L750.2,425.3L757.1,427.8L758.4,431.5L755.3,437.8L751.5,441.6L753.4,444.7L755.3,449.1L754.6,454.1L760.3,457.9L756.5,459.1L750.2,460.4L744,461.6L738.9,463.5L737.1,466L730.2,462.9L721.4,461L722.6,454.1L722,446.6L718.9,440.3L713.9,435.3Z" fill="#c5e4bf"/>
<path d="M761.5,464.1L764,462.9L764.7,467.6L762.8,471.4L761.3,468.3Z" fill="#c5e4bf"/>
<path d="M738.3,418.4L742.7,415.8L748.4,414.6L750.2,417.7L752.1,420.9L750.2,425.3L745.2,422.7Z" fill="#dff0c0"/>
<path d="M742.7,415.2L745.2,406.4L750.2,402.1L755.3,400.8L755.9,405.2L753.4,408.9L752.7,414L754,417.7L750.2,417.7L748.4,414.6Z" fill="#c8e6bf"/>
<path d="M750.2,421.5L752.1,420.9L753.4,426.5L750.2,425.3Z" fill="#feffdd"/>
<path d="M755.9,400.8L760.3,399.5L761.5,393.9L765.3,393.3L770.3,397L775.3,394.5L782.8,397L783.5,402.7L784.7,408.9L784.1,415.2L779.1,418.4L776.6,422.1L780.3,426.5L782.2,430.3L779.1,431.5L778.5,435.3L772.8,437.2L767.8,436.5L762.8,437.2L758.4,436.5L755.3,437.8L758.4,431.5L757.1,427.8L753.4,426.5L752.1,420.9L754,417.7L752.7,414L753.4,408.9L755.9,405.2Z" fill="#58a1bc"/>
<path d="M760.3,380.1L766.5,373.2L769.7,371.3L768.4,377L769.7,381.4L766.5,385.1L765.9,388.9L767.8,391.4L765.3,393.3L761.5,393.9L760.3,387.6Z" fill="#f9fcd2"/>
<path d="M770.9,386.4L775.3,384.5L776.6,388.9L774.1,391.4L771.6,390.1Z" fill="#f9fcd2"/>
<path d="M782.8,397L789.1,393.9L796.6,392L804.8,393.3L810.4,393.9L817.3,393.3L819.8,400.2L819.2,405.2L821.1,410.2L820.5,417.7L821.7,421.5L818,426.5L814.8,429L810.4,426.5L804.2,425.9L799.2,424L794.1,421.5L789.1,418.4L784.1,415.2L784.7,408.9L783.5,402.7Z" fill="#ebf6c3"/>
<path d="M784.1,415.2L789.1,418.4L794.1,421.5L799.2,424L797.9,427.8L792.9,429.6L787.9,429L782.2,430.3L780.3,426.5L776.6,422.1L779.1,418.4Z" fill="#f2f9cb"/>
<path d="M782.2,430.3L787.9,429L792.9,429.6L791.6,435.3L790.4,440.3L785.4,442.8L779.1,442.2L772.8,440.9L767.8,440.3L762.8,439.7L762.8,437.2L767.8,436.5L772.8,437.2L778.5,435.3L779.1,431.5Z" fill="#f4facc"/>
<path d="M753.4,444.7L751.5,441.6L755.3,437.8L758.4,436.5L762.8,437.2L762.8,439.7L766.5,441.6L762.8,445.3L757.8,446.6Z" fill="#e9f5c2"/>
<path d="M755.3,449.1L757.8,446.6L762.8,445.3L766.5,441.6L767.8,440.3L772.8,440.9L779.1,442.2L780.3,445.3L776.6,449.1L775.3,454.1L779.1,459.1L784.1,464.1L790.4,469.2L795.4,473.5L799.2,476.7L797.9,479.8L794.1,477.9L795.4,481.7L792.9,486.1L790.4,484.8L791,480.4L787.9,476.7L784.1,473.5L779.1,469.2L775.3,465.4L771.6,461.6L767.8,456.6L764,455.4L760.3,457.9L754.6,454.1Z" fill="#d4ebbf"/>
<path d="M776.6,488.9L784.1,487.9L787.9,488.7L786,494.6L781.6,492.7L777.8,491.5Z" fill="#d4ebbf"/>
<path d="M760.3,473.6L764,472.6L765.3,476.7L764.7,483.3L761.5,484.2L760.3,479.5Z" fill="#d4ebbf"/>
<path d="M799.2,424L804.2,425.9L810.4,426.5L814.8,429L812.9,431.5L806.7,431.5L801.7,433.4L797.3,434L792.9,429.6L797.9,427.8Z" fill="#fafdd5"/>
<path d="M792.9,429.6L797.3,434L801.7,433.4L806.7,431.5L812.9,431.5L814.8,433.4L811.7,437.8L809.2,442.2L802.9,444.7L797.9,445.9L792.9,443.4L790.4,440.3L791.6,435.3Z" fill="#f7fbd0"/>
<path d="M779.1,442.2L785.4,442.8L790.4,440.3L789.1,444.7L785.4,446.6L780.3,445.3Z" fill="#feffdd"/>
<path d="M780.3,445.3L785.4,446.6L789.1,444.7L792.9,443.4L797.9,445.9L802.9,444.7L803.5,447.8L799.2,449.1L792.9,449.1L789.1,450.3L792.9,456.6L797.9,461.6L800.4,464.8L796.6,462.9L791.6,457.9L787.9,454.1L784.1,450.3L782.2,449.1Z" fill="#feffdd"/>
<path d="M789.1,450.3L792.9,449.1L799.2,449.1L803.5,447.8L804.2,452.8L802.9,457.9L800.4,461.6L797.9,461.6L792.9,456.6Z" fill="#feffdd"/>
<path d="M803.5,447.8L802.9,444.7L809.2,442.2L811.7,445.3L814.8,449.1L814.2,454.1L816.1,457.9L812.9,461.6L809.2,462.9L806.7,460.4L802.9,457.9L804.2,452.8Z" fill="#feffdd"/>
<path d="M800.4,461.6L802.9,457.9L806.7,460.4L805.4,464.1L802.3,465.4Z" fill="#feffdd"/>
<path d="M806.7,460.4L809.2,462.9L810.4,466L807.3,466.6L805.4,464.1Z" fill="#ffffff"/>
<path d="M802.3,465.4L805.4,464.1L807.3,466.6L807.9,470.4L808.6,475.4L805.4,479.2L803.5,474.2L802.9,469.2Z" fill="#feffdd"/>
<path d="M807.3,466.6L810.4,466L815.5,468.5L814.8,472.3L810.4,473.5L807.9,470.4Z" fill="#ffffff"/>
<path d="M814.8,433.4L819.2,436.5L825.5,435.9L832.4,434L836.8,437.8L838.7,442.8L839.3,447.8L844.3,449.1L842.4,454.1L838,456.6L830.5,457.2L824.2,458.5L818,456.6L814.8,449.1L811.7,445.3L809.2,442.2L811.7,437.8Z" fill="#fafdd5"/>
<path d="M832.4,434L835.5,433.4L840.5,437.8L843.1,442.8L841.8,446.6L839.3,447.8L838.7,442.8L836.8,437.8Z" fill="#feffdd"/>
<path d="M816.1,457.9L818,456.6L824.2,458.5L830.5,457.2L838,456.6L839.3,460.4L836.8,464.1L835.5,467.9L830.5,469.2L826.7,471.7L821.7,472.3L816.7,470.4L815.5,468.5L812.9,461.6Z" fill="#feffdd"/>
<path d="M805.4,479.2L808.6,475.4L810.4,473.5L814.8,472.3L816.7,470.4L821.7,472.3L826.7,471.6L830.5,469.1L831.8,472.3L828,473.5L824.2,474.1L820.5,475.4L818,477.9L821.7,482.9L819.2,484.2L823,489.2L820.5,490.5L818,487.9L817.3,492.7L815.5,495.8L812.9,492.7L810.4,485.4L809.2,480.4Z" fill="#feffdd"/>
<path d="M818.6,500.9L824.2,501.5L830.5,501.5L829.9,503.4L823,503.4L819.2,502.5Z" fill="#feffdd"/>
<path d="M819.2,361.9L825.5,359.4L834.3,358.2L836.2,362.5L835.5,367.6L830.5,370.7L824.2,368.8L820.5,366.3Z" fill="#feffdd"/>
<path d="M811.1,377L812.9,372.6L819.2,370.7L820.5,374.5L824.2,372.6L824.2,368.8L830.5,370.7L835.5,367.6L836.8,375.1L836.2,381.4L832.4,385.1L826.7,382.6L820.5,382L815.5,382L811.1,383.2Z" fill="#feffdd"/>
<path d="M811.1,383.2L815.5,382L820.5,382L826.7,382.6L832.4,385.1L830.5,390.1L826.7,395.2L820.5,397L817.3,393.3L816.1,390.1L810.4,390.1L809.2,386.4Z" fill="#feffdd"/>
<path d="M805.4,392L810.4,390.1L816.1,390.1L817.3,393.3L810.4,393.9L804.8,393.9Z" fill="#e9f6c3"/>
<path d="M832.4,385.1L836.2,381.4L843.1,385.7L848.1,387.6L849.9,395.2L854.3,401.4L849.3,405.2L849.9,409.6L846.8,412.7L840.5,413.3L830.5,411.5L821.1,410.2L819.2,405.2L819.8,400.2L817.3,393.3L820.5,397L826.7,395.2L830.5,390.1Z" fill="#feffdd"/>
<path d="M690.7,463.2L696.3,459.5L705.1,460.4L715.1,460.4L721.4,461L730.2,463.2L737.7,466.4L736.4,468.9L731.4,472.6L728.3,478.3L727,484.6L723.3,488.9L720.1,492.7L713.9,495.8L707,498.4L703.2,495.2L698.8,493.3L700.7,488.9L699.4,485.2L701.3,480.2L700.7,475.2L702.6,468.9L697.6,467L691.9,466.4Z" fill="#e7f3c1"/>
<path d="M691.9,466.4L697.6,467L702.6,468.9L700.7,475.2L701.3,480.2L699.4,485.2L700.7,488.9L698.8,493.3L692.5,494.6L693.8,488.9L690.7,485.2L692.5,477.7L693.2,471.4Z" fill="#fbfdd7"/>
<path d="M757.5,368.8L750,365L747.5,337.5L757.5,330L765,323.8L770,312.5L776.2,300L783.8,287.5L793.8,276.2L802.5,266.2L812.5,258.8L818.8,259.5L822.5,250.5L837.5,248.8L849.5,256.2L846.2,260L847.5,265L838.8,266.2L835,261.2L830,263.8L823.8,274.5L816.2,275L811.2,270L807,272L805,278L798.8,277.5L797.5,282.5L792.5,283.8L787.5,300L781.2,315L780.5,320L777,321.2L775,335L776.2,350L770,359.5Z" fill="#f5fbcf"/>
<path d="M770,359.5L776.2,350L775,335L777,321.2L780.5,320L781.2,315L787.5,300L792.5,283.8L797.5,282.5L798.8,277.5L805,278L807,272L811.2,270L818.8,284.5L819.5,304.5L815,307.5L811.2,315L810,323.8L802.5,331.2L797.5,340L800,350L796.2,360L792.5,370L790,382.5L785,383.8L782.5,387.5L777,390L772.5,376.2Z" fill="#f5fbcf"/>
<path d="M811.2,270L816.2,275L823.8,274.5L830,263.8L835,261.2L838.8,266.2L840,272.5L843.8,286.2L842.5,300L847,311.2L845.5,321.2L850,332.5L845,345L837.5,352L826.2,353.8L817.5,355L812.5,345L811.2,336.2L816.2,325L825,315L826.2,308.8L819.5,304.5L818.8,284.5Z" fill="#fbfdd7"/>
<path d="M797.5,373.8L802,370.5L801.2,375L798.8,377.5Z" fill="#f5fbcf"/>
<path d="M792,377L793.5,376.2L793,382L791.5,382.5Z" fill="#f5fbcf"/>
<path d="M768,112.5L778.8,105L781.2,112.5L786.2,112L787.5,105L793.8,103.8L800,112.5L812.5,127.5L802.5,135L800,147.5L796.2,153.8L795,167.5L790,168L782,157.5L784.5,152.5L776.2,135L770,122.5Z" fill="#f5fbcf"/>
<path d="M795.5,97.5L807.5,91.2L812.5,96.2L816.2,90L825,93.8L835,103.8L830,115L817.5,118L807.5,115L801.2,107.5Z" fill="#f5fbcf"/>
<path d="M808.8,141.2L817,137.5L818.8,143.8L824.5,148L816.2,156.2L808.8,151.2L810.8,146.2Z" fill="#f5fbcf"/>
<path d="M901.2,91.8L910,87.5L916.2,87L922.5,83L928.8,88.8L925,95L917.5,100L913,105L908.8,100L910.5,93.8Z" fill="#e9f6c3"/>
<path d="M995,165L996.2,172.5L990,178.8L977.5,185L967.5,192.5L957.5,205L952.5,217.5L946.2,232.5L945,242.5L952.5,253.8L937.5,252.5L936.2,246.2L930,245L928.8,237.5L932.5,232.5L932.5,225L940,215L936.2,214.5L946.2,202.5L944.5,196.2L955,186.2L967.5,176.2L980,172.5L987.5,167.5Z" fill="#e9f6c3"/>
<path d="M705.5,500L715,501.2L721.2,502L727.5,498L740,495L750,493.8L760,494.2L765,493L770,494.5L768.8,498.8L770.5,503L767.5,508.8L772.5,513.8L780,515L790,518.8L797.5,523L803.8,525L805,520L811.2,515L820,517.5L825.5,520L837.5,521.2L847.5,520.5L855,519.5L862.5,521.2L860.8,534.8L860.2,539L857.5,533.8L854,526.5L856.5,534L861.5,542.8L865.2,550.2L867.8,555.5L870.2,560.5L873.8,567.5L876.2,576.2L880.2,583.8L885.2,590.1L890.2,596.4L894,601.4L895.2,603.3L892.7,605.2L895.2,607L897.7,610.2L904,613.9L911.5,617.1L915.3,615.2L917.8,610.2L918.4,604.5L927.2,601.4L926.6,607.7L922.8,617.7L917.8,626.5L911.5,635.3L902.7,642.8L895.2,649.1L888.9,655.3L885.2,660.3L880.8,666.6L879.5,672.9L881.4,680.4L882.7,685.4L885.2,689.2L885.5,690.1L886.1,697.6L886.7,706.4L884.2,712.7L878,717.1L871.7,720.8L865.4,725.2L862.3,729L864.2,732.7L866.1,736.5L865.4,741.5L865.4,745.9L860.4,749.1L856,752.2L854.1,755.3L854.8,757.8L854.4,759.1L853.5,764.1L850.4,769.1L845.4,775.4L840.3,781L834.1,786.1L827.8,789.2L820.3,789.8L811.5,791.7L804.6,794.5L799.6,791.7L797.7,783.5L798.3,780.4L795.2,772.9L792.1,764.7L788.9,760.3L786.4,754.1L784.5,745.3L783.3,736.5L778.9,730.2L775.1,722.7L772.9,716.4L773.9,708.9L775.7,702.6L779.5,696.4L780.1,690.7L777.6,683.8L777,676.3L775.1,670L772.5,666.2L767.5,658.8L762.5,652.5L764.5,642.5L762.5,635L760,631.2L751.2,632.5L747.5,630L742.5,625L737.5,625L730,627.5L722.5,628.8L715,627.5L707.5,630L697.5,631.2L690,626.2L683.8,620L677.5,613.8L673.8,608.8L667.5,602.5L663.8,600L662.5,595L658.8,591.2L662.5,586.2L665,580L663.8,572.5L662,563.8L665,555L670,548.8L675,541.2L680,533.8L686.2,528.8L690,520L693.8,511.2L700,505Z" fill="#feffdd"/>
<path d="M693.9,539.4L693.9,543.8L683.9,544.8L682,548.8L680.7,555.1L677,557L676.3,563.2L671.9,563.2L673.8,557L679.5,550.7L680.7,542.5L683.2,540.7Z" fill="#ffffff"/>
<path d="M684.5,619.7L688.9,616.5L692.6,620.3L695.8,623.4L697.7,626.6L698.3,631.6L693.9,630.3L687.6,625.3Z" fill="#7b8fa3"/>
<path d="M856.6,685.7L859.8,687L861,692.6L862.3,698.9L865.4,703.9L867.3,708.9L866.7,713.9L864.2,716.4L861.7,712.7L860.4,707.7L856,705.2L855.4,702.6L857.3,695.1Z" fill="#7b8fa3"/>
<path d="M792.1,764.7L793.9,762.8L797.7,766.6L802.7,767.2L805.2,764.7L805.2,747.8L807.7,753.4L809.6,757.8L814,753.4L817.8,750.3L821.5,752.2L826.5,752.8L830.3,747.8L832.8,744L836.6,740.3L840.3,737.8L845.4,737.1L850.4,738.4L852.3,745.3L852.9,752.8L853.5,756.6L854.4,759.1L853.5,764.1L850.4,769.1L845.4,775.4L840.3,781L834.1,786.1L827.8,789.2L820.3,789.8L811.5,791.7L804.6,794.5L799.6,791.7L797.7,783.5L798.3,780.4L795.2,772.9Z" fill="#fcfed8"/>
<path d="M832.8,770.4L839.1,766L842.2,768.5L836.6,774.8Z" fill="#feffdd"/>
<path d="M847.9,754.7L850.4,752.8L852.9,755.3L851,759.7L848.1,757.8Z" fill="#feffdd"/>
<path d="M919.4,696.4L922.5,701.4L921.9,710.2L919.4,720.2L916.2,731.5L913.1,741.5L911.2,749.1L904.3,752.2L898.7,749.7L896.8,742.8L896.2,735.3L899.3,727.7L900.5,720.2L899.9,713.9L905.6,711.4L913.1,707.7L915.6,701.4Z" fill="#feffdd"/>
<path d="M825.5,520L837.5,521.2L847.5,520.5L855,519.5L862.5,521.2L860.8,534.8L860.2,539L857.5,533.8L854,526.5L856.5,534L861.5,542.8L865.2,550.2L867.8,555.5L870.2,560.5L825.5,560.8Z" fill="#fefedc"/>
<path d="M740,605L742.5,597.5L750,595.5L760,597.5L772.5,596.2L780,595.5L783.8,602.5L781.2,610L776.2,616.2L770,622.5L765,623.8L762.5,631.2L760,631.2L751.2,632.5L747.5,630L742.5,625L738,625L738.8,616.2L741.2,610Z" fill="#fefedc"/>
<path d="M831.4,481.4L836.4,476.4L842.6,473.9L850.2,472.9L855.2,470.1L862.7,467.8L870.2,470.1L877.8,473.2L885.3,472.9L889.7,471.4L892.8,472L897.2,473.6L899.1,477L901,481.4L900.3,487.7L901,491.4L892.8,492.7L880.3,495.2L870.2,495.2L868.7,497.1L867.7,500.2L865.8,497.1L864,495.2L858.9,497.1L853.9,495.8L847.7,497.1L843.9,495.2L837.6,494.6L833.9,490.2L831.4,486.4Z" fill="#f2f9cb"/>
<path d="M829.5,470.1L833.9,468.8L837.6,470.7L840.1,473.2L836.4,475.7L831.4,476.4L828.8,473.9Z" fill="#f2f9cb"/>
<path d="M882.2,460.1L890.3,461.9L897.8,464.5L904.1,466.3L902.2,470.1L899.1,472.6L897.2,473.6L892.8,472L889.7,471.4L889.7,467L887.8,463.2Z" fill="#feffdd"/>
<path d="M897.2,473.6L899.1,472.6L902.2,470.1L904.7,473.2L906.6,477.6L909.1,483.9L906,483.3L904.1,483.3L901,481.4L899.1,477Z" fill="#feffdd"/>
<path d="M904.1,466.3L907.9,469.5L912.9,470.1L917.3,475.1L919.2,481.4L918.5,483.9L914.8,482.6L911.6,481.4L909.1,483.9L906.6,477.6L904.7,473.2L902.2,470.1Z" fill="#feffdd"/>
<path d="M867.7,500.2L868.7,497.1L870.2,495.2L880.3,495.2L892.8,492.7L890.3,495.2L889.7,502.7L886.5,506.5L880.3,509.6L870.2,515.3L868.4,513.4L869.6,510.9L869,506.5L867.1,510.2L868.4,506.5Z" fill="#feffdd"/>
<path d="M867.1,510.2L869,506.5L869.6,510.9L868.4,513.4L866.5,515.3Z" fill="#feffdd"/>
<path d="M866.5,515.3L868.4,513.4L866.5,520.3L865.2,530.3L862.7,532.2L860.8,534.7L861.5,527.8L862.7,520.9Z" fill="#fbfdd7"/>
<path d="M868.4,513.4L870.2,515.3L880.3,509.6L880.3,512.7L879.6,516.5L870.2,519.6L874.6,523.4L875.3,525.3L871.5,527.8L865.2,530.3L866.5,520.3Z" fill="#feffdd"/>
<path d="M892.8,492.7L901,491.4L904.1,498.9L906.6,502.7L904.7,508.4L907.2,512.7L912.3,516.5L914.1,522.8L915.4,526.5L911,526.5L910.4,530.9L902.8,530.3L895.3,525.3L886.5,519L879.6,516.5L880.3,512.7L880.3,509.6L886.5,506.5L889.7,502.7L890.3,495.2Z" fill="#feffdd"/>
<path d="M911,526.5L915.4,526.5L917.3,530.3L913.5,532.8L910.4,530.9Z" fill="#fbfdd7"/>
<path d="M901,481.4L904.1,483.3L906,483.3L909.1,483.9L911.6,481.4L914.8,482.6L918.5,483.9L920.4,488.9L924.2,492.1L930.4,493.9L936.7,493.3L937.3,493.3L943,489.5L949.3,488.3L956.8,490.2L961.8,495.2L966.2,501.5L964.3,510.2L966.8,517.8L964.3,525.3L968.1,527.8L971.8,534.1L973.7,540.3L968.1,544.1L966.8,547.9L958,546.6L949.9,544.1L948,540.3L941.7,542.2L935.5,541L930.4,537.8L925.4,531.6L923.5,526.5L915.4,526.5L914.1,522.8L912.3,516.5L907.2,512.7L904.7,508.4L906.6,502.7L904.1,498.9L901,491.4L900.3,487.7Z" fill="#fbfdd7"/>
<path d="M862.7,532.2L865.2,530.3L871.5,527.8L875.3,525.3L874.6,523.4L870.2,519.6L879.6,516.5L886.5,519L895.3,525.3L902.8,530.3L910.4,530.9L913.5,532.8L917.3,530.3L920.4,536.6L923.5,542.8L925.4,549.1L928.6,551.6L930.4,555.4L941.7,557.3L944.9,560.4L941.7,570.4L931.1,574.2L920.4,575.5L911.6,578.6L900.3,579.2L894.1,581.7L892.8,581.7L888.4,577.3L884,570.4L880.3,563.5L877.1,555.4L872.1,550.4L868.4,544.1L864,536.6Z" fill="#eff8c7"/>
<path d="M926.1,544.1L927.9,542.8L929.2,546.6L927.3,549.7L925.4,548.5Z" fill="#fafdd5"/>
<path d="M930.4,555.4L928.6,551.6L930.4,552.3L936.7,551.6L941.7,549.1L945.5,544.1L947.4,542.2L946.1,549.1L944.2,552.9L944.9,560.4L941.7,557.3Z" fill="#e2f1c0"/>
<path d="M944.9,560.4L944.2,552.9L946.1,549.1L948,549.1L950.5,551.6L956.8,555.4L960.5,558.5L957.4,563.5L953.6,569.2L949.9,572.9L944.2,576.7L940.5,580.5L935.5,584.2L932.9,579.2L931.1,574.2L941.7,570.4Z" fill="#feffdd"/>
<path d="M894.1,581.7L900.3,579.2L911.6,578.6L920.4,575.5L931.1,574.2L932.9,579.2L935.5,584.2L925,590L915,593.8L905,597.5L897.5,600L896.2,592.5Z" fill="#feffdd"/>
<path d="M852.7,502.7L856.4,502.1L860.8,502.5L858.9,505.2L854.6,505.2Z" fill="#feffdd"/>
<path d="M965.6,500.7L972.5,500.1L978.8,493.8L985.1,491.9L992.6,493.2L1000.1,490.7L1003.3,486.3L1005.8,490.1L1007,490.7L1012.7,490.1L1018.9,490.1L1019.6,491.3L1013.9,492.6L1007,494.5L1005.2,502L1003.3,507.6L1000.1,510.1L996.4,517L988.2,520.8L985.7,525.2L978.8,528.3L968.8,528.9L963.1,525.8L966.3,517.7L963.8,508.9Z" fill="#feffdd"/>
<path d="M1007,494.5L1013.9,492.6L1019.6,491.3L1024,496.3L1028.4,500.7L1025.2,503.9L1020.2,504.5L1015.8,506.4L1017.7,512.6L1021.5,516.4L1018.9,517.7L1013.9,526.4L1008.9,534L1003.3,537.7L999.5,540.2L1001.4,544L1003.9,550.3L995.7,552.8L993.9,550.3L989.5,551.5L986.3,546.5L978.8,545.9L967.5,546.5L968.8,542.1L974.4,540.2L971.9,534L968.8,528.9L978.8,528.3L985.7,525.2L988.2,520.8L996.4,517L1000.1,510.1L1003.3,507.6L1005.2,502Z" fill="#feffdd"/>
<path d="M1015.8,506.4L1020.2,504.5L1025.2,503.9L1028.4,500.7L1032.7,502.6L1035.3,507.6L1034.6,513.3L1036.5,518.3L1041.5,523.3L1040.3,528.9L1041.5,531.5L1046.5,534L1055.3,537.7L1064.1,540.2L1072.3,541.5L1072.3,535.8L1073.5,534.6L1075.4,539.6L1085.4,540.2L1085.4,535.2L1089.2,532.1L1095.5,530.2L1101.7,528.3L1104.2,531.5L1106.1,535.2L1100.5,540.2L1098,545.3L1095.5,550.3L1092.9,552.8L1089.2,550.3L1086.7,555.3L1085.4,560.3L1083.5,550.3L1085.4,551.5L1086.7,547.8L1080.4,545.3L1075.4,545.3L1072.3,544L1071.6,546.5L1073.5,551.5L1076.6,557.8L1076,560.3L1072.9,562.2L1067.9,563.4L1064.1,569.1L1057.8,574.1L1050.3,580.4L1045.3,584.1L1040.9,587.9L1039.6,595.4L1040.3,602.9L1037.8,610.5L1035.3,614.2L1030,617.5L1023.8,606.2L1025.2,606.7L1020.2,595.4L1015.2,582.9L1012.1,571.6L1010.2,561.6L1005.2,563.4L1001.4,560.3L997,556.5L995.7,552.8L1003.9,550.3L1001.4,544L999.5,540.2L1003.3,537.7L1008.9,534L1013.9,526.4L1018.9,517.7L1021.5,516.4L1017.7,512.6Z" fill="#dff0c0"/>
<path d="M1040.3,528.9L1045.3,525.2L1054.1,528.9L1062.8,533.3L1070.4,535.8L1072.3,541.5L1064.1,540.2L1055.3,537.7L1046.5,534L1041.5,531.5Z" fill="#feffdd"/>
<path d="M1075.4,536.5L1080.4,535.2L1085.4,536.5L1085.4,540.2L1075.4,539.6Z" fill="#feffdd"/>
<path d="M1072.3,544L1075.4,545.3L1080.4,545.3L1086.7,547.8L1085.4,551.5L1083.5,550.3L1082.3,555.3L1081.7,559.1L1079.2,560.3L1076.6,557.8L1073.5,551.5L1071.6,546.5Z" fill="#fbfdd7"/>
<path d="M1038.8,611.2L1042.5,610.5L1046.2,616.2L1045.5,623.8L1041.2,626.2L1038.8,621.2Z" fill="#feffdd"/>
<path d="M1103.9,530L1108.9,533.8L1111.4,537.5L1110.1,543.8L1112.6,548.8L1111.4,552.6L1113.3,557L1117.7,561.4L1120.2,563.9L1118.9,565.1L1114.5,568.3L1110.1,571.4L1107,575.8L1108.9,580.2L1111.4,586.4L1112.6,592.7L1114.5,599L1113.9,605.3L1112,610.3L1113.3,605.3L1112.6,597.7L1110.8,590.2L1108.9,583.9L1107.6,580.2L1104.5,583.9L1100.1,587.1L1094.5,585.2L1095.1,577.7L1093.2,571.4L1090.1,566.4L1088.2,561.4L1086.3,555.1L1088.8,551.3L1092.6,550.1L1095.1,545.1L1098.2,541.3L1100.1,535Z" fill="#feffdd"/>
<path d="M1107,575.8L1110.1,571.4L1114.5,568.3L1118.9,565.1L1120.2,563.9L1121.4,571.4L1122.7,577L1128.9,575.8L1132.7,577.7L1136.5,582.7L1139.6,588.9L1140.2,592.7L1135.2,593.3L1130.2,594.6L1128.3,598.4L1128.9,602.7L1125.2,599.6L1120.2,597.7L1118.3,600.9L1117,605.3L1116.4,610.3L1118.3,616.5L1120.8,622.2L1123.9,625.3L1119.5,626.6L1117.7,624.1L1113.9,620.3L1111.4,616.5L1112,610.3L1113.9,605.3L1114.5,599L1112.6,592.7L1111.4,586.4L1108.9,580.2Z" fill="#f2f9cb"/>
<path d="M1119.5,626.6L1123.9,625.3L1127.7,629.1L1130.2,634.1L1131.5,639.1L1134,643.5L1130.2,642.9L1126.4,640.4L1122.7,635.4L1120.2,630.3Z" fill="#f1f9c9"/>
<path d="M1120.2,563.9L1125.2,560.7L1127.7,563.2L1131.5,565.7L1135.2,568.9L1132.7,571.4L1136.5,575.2L1140.2,580.2L1144,586.4L1145.3,591.5L1144,594L1140.2,592.7L1139.6,588.9L1136.5,582.7L1132.7,577.7L1128.9,575.8L1122.7,577L1121.4,571.4Z" fill="#ffffdf"/>
<path d="M1125.2,560.7L1128.9,558.2L1135.2,556.3L1139.6,557L1144,560.7L1146.5,563.9L1142.7,567.6L1140.2,572.6L1142.1,578.9L1147.8,585.2L1152.2,591.5L1154,597.7L1153.4,604L1150.3,607.1L1145.3,610.3L1140.2,613.4L1137.7,615.9L1135.8,611.5L1136.5,607.8L1141.5,605.3L1145.3,602.7L1145.9,597.7L1144,594L1145.3,591.5L1144,586.4L1140.2,580.2L1136.5,575.2L1132.7,571.4L1135.2,568.9L1131.5,565.7L1127.7,563.2Z" fill="#edf7c5"/>
<path d="M1128.9,602.7L1128.3,598.4L1130.2,594.6L1135.2,593.3L1140.2,592.7L1144,594L1145.9,597.7L1145.3,602.7L1141.5,605.3L1136.5,607.8L1132.7,606.5Z" fill="#feffdd"/>
<path d="M1171.2,737.5L1176.2,732.5L1186.2,730L1197.5,726.2L1203.8,720L1205,715L1210,711.2L1217.5,705L1225,703.8L1230,707.5L1233.8,702.5L1237.5,698.8L1241.2,693.8L1246.2,697.5L1252.5,696.2L1260,697L1261.2,702.5L1257.5,707.5L1265,712.5L1273.8,718.8L1277,716.2L1278.8,705L1281.2,695L1283,691.2L1287.5,700L1290,706.2L1293.8,707.5L1296.2,715L1297.5,722.5L1305,728.8L1310,735L1313.8,738.8L1320,745L1323.8,752.5L1326.2,762.5L1325,770L1324.6,777.5L1322.7,782.5L1318.9,786.3L1315.8,793.8L1312.6,801.4L1312,806.4L1306.4,808.3L1302,810.1L1298.2,814.5L1293.8,812L1293.2,808.9L1287.6,813.9L1281.3,811.4L1275,808.3L1271.9,801.4L1275,805L1271.2,798.8L1266.2,796.2L1265,786.2L1261.2,792.5L1256.2,790L1250,782.5L1241.2,778.8L1231.2,778.8L1220,782.5L1212.5,786.2L1207.5,788.8L1197.5,790L1188.8,793.8L1181.2,795L1175.5,791.2L1178.8,783.8L1177.5,775L1173.8,765L1171.2,755L1169.5,747.5Z" fill="#edf7c5"/>
<path d="M1291.3,822.7L1297,824.6L1302.6,823.7L1306.4,823.9L1306.1,830.2L1303.9,837.7L1302.6,835.2L1300.1,839L1297,838.4L1294.5,833.3L1292.6,827.7Z" fill="#edf7c5"/>
<path d="M1399.8,792.3L1402.9,793.2L1408,797L1409.2,801.4L1413,803.9L1414.2,807L1418.6,808.3L1423.6,807.4L1422.4,814.5L1418.6,815.8L1416.1,822.1L1413.6,826.4L1410.5,828.3L1408,825.8L1410.5,822.7L1409.2,819.5L1405.5,817L1408,813.9L1409,807.6L1406.7,803.2L1403.6,798.2Z" fill="#fdfedb"/>
<path d="M1401.7,821.4L1402.9,825.2L1406.1,823.9L1407.3,828.3L1404.2,832.7L1401.1,837.7L1402.9,840.2L1397.9,841.5L1395.4,845.3L1393.5,850.3L1390.4,854L1386.6,855.9L1381.6,854L1376.6,852.8L1377.2,848.4L1381,844L1385.4,840.2L1390.4,837.1L1395.4,831.5L1398.6,823.9Z" fill="#fdfedb"/>
<path d="M1236.2,653.8L1242.5,651.2L1250,652.5L1250,657.5L1245,660L1252.5,662.5L1256.2,660L1262.5,656.2L1270,656.2L1277,658.8L1277,685L1270,681.2L1265,682.5L1268.8,676.2L1265,670L1258.8,666.2L1252.5,663.8L1247.5,665L1242.5,662.5L1240,657.5Z" fill="#f3facb"/>
<path d="M1277,658.8L1287.5,661.2L1297.5,666.2L1303.8,672.5L1300,677.5L1306.2,683.8L1315,690L1310,691.2L1302.5,687.5L1295,682.5L1287.5,681.2L1282.5,685L1277,685Z" fill="#feffdd"/>
<path d="M1305.4,670.2L1310.4,673.3L1316.7,672.7L1322.4,668.9L1325.2,664.5L1323,661.4L1314.8,658.3L1314.2,660.1L1319.8,663.3L1321.1,665.8L1318,668.3L1312.9,670.2L1307.9,669.5Z" fill="#feffdd"/>
<path d="M1330,668.8L1332,668L1334.5,673.8L1332.5,674.2Z" fill="#feffdd"/>
<path d="M1337.5,675L1342.5,676.2L1342,678.2L1337.5,677Z" fill="#feffdd"/>
<path d="M1345,678.8L1350,680L1349.5,682L1345,680.5Z" fill="#feffdd"/>
<path d="M1351.2,683.8L1355,686.2L1354,688L1350.8,685.5Z" fill="#feffdd"/>
<path d="M1356.2,688.8L1361.2,690.5L1360.5,692.5L1356,690.5Z" fill="#feffdd"/>
<path d="M1376.2,706.2L1378.2,705.8L1381.2,714.5L1379.5,715Z" fill="#feffdd"/>
<path d="M1367,728.8L1372.5,731.2L1379.5,738.8L1375,737.5L1368.8,732.5Z" fill="#feffdd"/>
<path d="M1418.8,718L1422.5,717L1423.8,720L1420,722Z" fill="#feffdd"/>
<path d="M1425,713.8L1428.8,712.5L1429,714L1425.5,715Z" fill="#feffdd"/>
<path d="M1138.8,673.8L1147.5,675L1157.5,676.2L1167.5,678.8L1177.5,681.2L1176.2,683.8L1165,682L1152.5,679.5L1141.2,677Z" fill="#f3facb"/>
<path d="M1182,683L1188,681.8L1189.5,683.8L1183.8,685Z" fill="#f3facb"/>
<path d="M1190.5,686.2L1197,685.5L1198,688L1192.5,688.8Z" fill="#f3facb"/>
<path d="M1196.2,682.5L1206.2,680.5L1207,682.5L1197.5,684.5Z" fill="#f3facb"/>
<path d="M1208.8,688.8L1215,683.8L1223.8,681.8L1221.2,685L1212.5,689.5Z" fill="#f3facb"/>
<path d="M1250,670L1252.5,671.2L1251.2,677Z" fill="#f3facb"/>
<path d="M1098.2,627.2L1107.6,628.5L1112.6,634.1L1118.9,640.4L1125.2,643.5L1130.2,649.2L1134,652.9L1137.7,657.9L1140.2,662.9L1140.9,671.7L1141.2,672.5L1137.5,672L1135.2,671.7L1128.9,666.7L1122.7,660.4L1117.7,653.5L1112.6,645.4L1107.6,639.1L1102.6,632.8Z" fill="#f3facb"/>
<path d="M1152.8,641L1157.8,639.1L1162.8,637.2L1169.1,634.1L1174.1,630.3L1179.1,625.3L1182.9,622.2L1186.6,623.4L1192.3,627.2L1187.9,630.3L1186.6,635.4L1188.5,641.6L1192.9,645.4L1187.9,646.6L1185.4,651.7L1182.9,656.7L1180.4,662.9L1176.6,664.2L1169.1,661.1L1162.8,659.8L1157.8,657.9L1154.7,650.4L1152.8,645.4Z" fill="#f3facb"/>
<path d="M1152.8,641L1157.8,639.1L1162.8,637.2L1169.1,634.1L1174.1,630.3L1179.1,625.3L1182.9,622.2L1186.6,623.4L1192.3,627.2L1187.9,630.3L1182.9,631.6L1177.9,632.8L1174.1,637.9L1169.1,641L1162.8,642.9L1156.5,643.5Z" fill="#f1f9c9"/>
<path d="M1173.9,630.3L1175.6,629.3L1176.4,631.3L1174.7,632.2Z" fill="#feffdd"/>
<path d="M1194.2,647.3L1200.4,644.1L1208,643.5L1215.5,642.3L1213,646.6L1205.5,648.5L1200.4,649.2L1208,652.3L1201.7,654.2L1197.9,655.4L1202.9,659.2L1206.7,665.5L1206.1,669.2L1202.3,665.5L1199.2,660.4L1196.7,660.4L1195.4,668L1193.5,670.5L1191.7,665.5L1192.3,659.2L1194.2,652.9Z" fill="#f3facb"/>
<path d="M1197.9,575.8L1203.6,575.2L1205.5,580.2L1202.9,585.2L1202.3,590.2L1206.7,592.7L1210.5,594L1213,597.7L1216.7,600.2L1218,605.3L1214.2,604L1210.5,600.2L1206.7,597.7L1202.9,598.4L1199.2,595.2L1196.1,590.2L1195.4,583.9Z" fill="#fcfed8"/>
<path d="M1184.1,616.5L1187.9,612.2L1192.3,606.5L1194.2,603.4L1194.8,605.3L1190.4,611.5L1186,616.5Z" fill="#fcfed8"/>
<path d="M1202.9,620.9L1206.7,617.8L1211.7,615.3L1216.7,612.8L1220.5,615.3L1221.1,621.6L1219.3,627.2L1216.7,625.3L1214.2,626.6L1212.4,622.8L1208,620.3L1204.8,622.2Z" fill="#fcfed8"/>
<path d="M1202.9,602.1L1206.7,602.7L1209.2,607.8L1205.5,610.3L1202.9,606.5Z" fill="#fcfed8"/>
<path d="M1209.2,602.7L1213,604L1215.5,609L1213,611.5L1210.5,607.8Z" fill="#fcfed8"/>
<path d="M1206.1,612.2L1209.2,611.5L1208,616.5L1205.5,615.3Z" fill="#fcfed8"/>
<path d="M1225.5,640.4L1228.7,641.6L1229.3,649.2L1226.8,652.3L1224.9,646.6Z" fill="#f3facb"/>
<path d="M1235.6,652.3L1243.1,650.4L1249.4,652.3L1250.6,656.7L1245.6,655.4L1239.3,654.2Z" fill="#f3facb"/>
<path d="M1218,661.7L1223,661.1L1224.3,662.9L1219.9,663.6Z" fill="#f3facb"/>
<path d="M1226.8,660.4L1234.3,660.4L1237.4,664.2L1231.8,662.3Z" fill="#f3facb"/>
<path d="M105.2,560.5L106.4,560.3L106.6,561.6L105.3,561.8Z" fill="#3a6bae"/>
<path d="M110.3,562.6L112.5,563.2L115.5,564.8L119.3,565.6L119.6,567L115,566.3L111.5,564.6Z" fill="#3a6bae"/>
<path d="M119.3,569.2L122,567.8L125,571.2L121.2,575L119,573Z" fill="#3a6bae"/>
<path d="M26,711.5L28,711L27,715.5L26,715.5Z" fill="#ffffff"/>
<path d="M996,866L1002.9,868.8L1002.3,873.2L995.1,873.8Z" fill="#ffffff"/>
<path d="M477.1,443.3L482.1,446.2L487.1,445" fill="none"/>
<path d="M446.6,570.1L447.6,573.9L447.9,577.6" fill="none"/>
<path d="M721.2,502L722.5,511.2L716.2,515L712.5,520L705,522.5L696.2,528.8L694.5,531.2L693.8,540L704.5,547" fill="none"/>
<path d="M661.9,563.6L671.9,563.2L676.3,563.2" fill="none"/>
<path d="M704.5,547L742.5,573L745,572L772.5,556.2" fill="none"/>
<path d="M760.5,494.2L760,498.8L757.5,505L761.2,512.5L764,524" fill="none"/>
<path d="M772.5,513.8L768.8,520L764,524" fill="none"/>
<path d="M764,524L766.2,533.8L765,542.5L767.5,550L772.5,556.2L783.8,560.5L787.5,557.5L820,569.5L822.5,570.5L825.5,570.5L825.5,560.8" fill="none"/>
<path d="M704.5,547L703.8,548.8L706.2,585L705,587.5L683.8,588L681.2,590" fill="none"/>
<path d="M661.2,586.2L667.5,584.5L675,586.2L681.2,590L683.8,597.5L685,602.5" fill="none"/>
<path d="M661.2,595.5L672.5,595L672.5,597L662,597" fill="none"/>
<path d="M663.8,600L672.5,600.5L681.2,601.2L685,602.5L690,601.2L693.8,603.8L695,610L693.8,616.2" fill="none"/>
<path d="M672.5,600.5L672.5,603.8L667.5,602.5" fill="none"/>
<path d="M673.8,608.8L680,607.5L683.8,612.5L682.5,617.5" fill="none"/>
<path d="M683.8,612.5L688.8,615" fill="none"/>
<path d="M695,610L700,608.8L707.5,610L713.8,608.8L716.2,616.2L715,627.5" fill="none"/>
<path d="M707.5,610L710,602.5L713.8,597.5L720,593.8L727.5,591.2L735,590L742.5,587.5L742.5,573" fill="none"/>
<path d="M713.8,608.8L715,607L722.5,606.2L728.8,607.5L732,607.5L736.2,602.5L733.8,597.5L727.5,591.2" fill="none"/>
<path d="M728.8,607.5L730,627.5" fill="none"/>
<path d="M732,607.5L733,625" fill="none"/>
<path d="M736.2,602.5L740,605" fill="none"/>
<path d="M787.5,557.5L788.8,580L785,587.5L781.2,595L780,595.5" fill="none"/>
<path d="M783.8,602.5L782.5,605L787.5,608.8L785,612.5L787.5,620" fill="none"/>
<path d="M787.5,620L795,617.5L805,615L812.5,610L818.8,606.2" fill="none"/>
<path d="M820,569.5L820,587.5L816.2,590L815,598.8L818.8,606.2L823.8,610" fill="none"/>
<path d="M787.5,620L785,630L790,637.5L780,640L764.5,640" fill="none"/>
<path d="M771.2,640L771.2,643.8L764.5,643.8" fill="none"/>
<path d="M771.2,643.8L780,643.8L782.5,645L783.8,652.5L780,658.8L775,660L772.5,666.2" fill="none"/>
<path d="M780,640L785,642.5L782.5,645" fill="none"/>
<path d="M790,637.5L798.8,636.2L802.5,630L812.5,632.5L820,630L828.8,628L830.2,625.2L823.8,610" fill="none"/>
<path d="M798.8,636.2L797.5,640L795,647.5L790,655L787.5,662.5L780,666.2L776.2,670" fill="none"/>
<path d="M823.8,610L830.5,609.5" fill="none"/>
<path d="M843.8,652.5L842.5,660L843.8,665L842.5,672.5L847.5,680L851.2,683.8" fill="none"/>
<path d="M843,656.2L847,655L847.5,658.8L843.8,660" fill="none"/>
<path d="M843.2,660.5L847,659.5L847.5,664.5L843.8,665.5" fill="none"/>
<path d="M851.2,683.8L856.2,687.5" fill="none"/>
<path d="M775.1,671.9L790.8,671.9L793.9,678.8L800.2,680.1L804,676.3L811.5,676.9L814,685.1L814.6,692L820.3,692.6" fill="none"/>
<path d="M820.3,692.6L820.9,699.5L813.4,700.1L812.7,710.2L814,715.2L817.8,718.9" fill="none"/>
<path d="M772.9,716.4L781.4,717.1L793.9,717.9L807.7,719.6L817.8,718.9L826.5,720.2" fill="none"/>
<path d="M820.3,692.6L827.8,693.2L834.1,694.5L839.1,697.6L842.2,700.8L843.5,698.9L842.8,695.7L839.7,695.1L838.5,690.1L839.7,683.8L844.1,681.9L850.4,683.2L856.6,685.7" fill="none"/>
<path d="M856,705.2L850.4,706.4L844.7,708.3L839.1,712.7L832.8,718.9L826.5,720.2" fill="none"/>
<path d="M863.5,693.9L872.9,693.2L880.5,691.4L885.5,690.1" fill="none"/>
<path d="M844.7,708.3L846.6,710.2L853.5,712.7L856,716.4L855.4,726.5L853.5,732.7L850.4,736.5L850.4,738.4" fill="none"/>
<path d="M826.5,720.2L829.1,725.2L832.8,729.6L836.6,734L840.3,737.8" fill="none"/>
<path d="M809,720.8L809,735.9L805.8,736.5L805.8,747.8L805.2,747.8" fill="none"/>
<path d="M877,578.8L872.6,580.7L869.5,585.1L870.1,591.4" fill="none"/>
<path d="M870.1,591.4L876.4,590.1L882.7,592.6L888.9,598.9L892.7,603.3L891.5,605.8L895.2,607.7" fill="none"/>
<path d="M895.2,607.7L900.2,612.7L911.5,617.7L905.3,625.2L897.7,630.2L888.9,634" fill="none"/>
<path d="M888.9,634L881.4,635.3L873.9,632.7L866.4,629L862.6,630.9" fill="none"/>
<path d="M862.6,630.9L865.1,627.7L861.4,622.7L857,618.3L860.1,616.4L859.5,608.9L863.2,601.4L867.6,595.1L870.1,591.4" fill="none"/>
<path d="M888.9,634L887.7,641.5L888.3,655.3" fill="none"/>
<path d="M862.6,630.9L861.4,635.3L863.9,641.5L860.1,647.8L860.1,652.8" fill="none"/>
<path d="M860.1,652.8L871.4,659.1L880.8,666.6" fill="none"/>
<path d="M847.6,635.3L855.1,635.3L862.6,630.9" fill="none"/>
<path d="M847.6,635.3L848.8,640.3L843.8,646.5L842.5,653.4L860.1,652.8" fill="none"/>
<path d="M830,610.2L837.5,611.4L846.3,608.9L851.9,606.4L852.6,601.4L857,601.4L856.3,608.9L860.1,616.4" fill="none"/>
<path d="M830,625.3L836.3,631.5L842.5,632.7L847.6,635.3" fill="none"/>
</g>
</svg>
<div id="vline"></div>
<div id="gear"><svg width="76" height="74" viewBox="0 0 76 74"><g transform="translate(39,34) scale(2.234) translate(-12,-12)"><path fill="#7a7a7a" d="M19.14,12.94c0.04-0.3,0.06-0.61,0.06-0.94c0-0.32-0.02-0.64-0.07-0.94l2.03-1.58c0.18-0.14,0.23-0.41,0.12-0.61l-1.92-3.32c-0.12-0.22-0.37-0.29-0.59-0.22l-2.39,0.96c-0.5-0.38-1.03-0.7-1.62-0.94L14.4,2.81c-0.04-0.24-0.24-0.41-0.48-0.41h-3.84c-0.24,0-0.43,0.17-0.47,0.41L9.25,5.35C8.66,5.59,8.12,5.92,7.63,6.29L5.24,5.33c-0.22-0.08-0.47,0-0.59,0.22L2.74,8.87C2.62,9.08,2.66,9.34,2.86,9.48l2.03,1.58C4.84,11.36,4.8,11.69,4.8,12s0.02,0.64,0.07,0.94l-2.03,1.58c-0.18,0.14-0.23,0.41-0.12,0.61l1.92,3.32c0.12,0.22,0.37,0.29,0.59,0.22l2.39-0.96c0.5,0.38,1.03,0.7,1.62,0.94l0.36,2.54c0.05,0.24,0.24,0.41,0.48,0.41h3.84c0.24,0,0.44-0.17,0.47-0.41l0.36-2.54c0.59-0.24,1.13-0.56,1.62-0.94l2.39,0.96c0.22,0.08,0.47,0,0.59-0.22l1.92-3.32c0.12-0.22,0.07-0.47-0.12-0.61L19.14,12.94z"/><circle cx="12" cy="12" r="3.25" fill="#fff"/></g></svg></div>
<div id="hl1"></div><div id="hl2"></div>
<div id="ltitle">Exports (current US$ millions)</div>
<div class="sw" style="left:53px;top:1028px;background:#ffffdf"></div><div class="lb" style="left:99px;top:1028px">$0</div>
<div class="sw" style="left:138px;top:1028px;background:#f6fbcf"></div><div class="lb" style="left:184px;top:1028px">$200,000</div>
<div class="sw" style="left:296px;top:1028px;background:#eaf6c3"></div><div class="lb" style="left:342px;top:1028px">$400,000</div>
<div class="sw" style="left:454px;top:1028px;background:#daedbf"></div><div class="lb" style="left:500px;top:1028px">$600,000</div>
<div class="sw" style="left:612px;top:1028px;background:#c3e3be"></div><div class="lb" style="left:658px;top:1028px">$800,000</div>
<div class="sw" style="left:770px;top:1028px;background:#a4d4be"></div><div class="lb" style="left:816px;top:1028px">$1.00 Mn</div>
<div class="sw" style="left:928px;top:1028px;background:#88c7be"></div><div class="lb" style="left:974px;top:1028px">$1.20 Mn</div>
<div class="sw" style="left:1086px;top:1028px;background:#70babf"></div><div class="lb" style="left:1132px;top:1028px">$1.40 Mn</div>
<div class="sw" style="left:1244px;top:1028px;background:#5ca9bf"></div><div class="lb" style="left:1290px;top:1028px">$1.60 Mn</div>
<div class="sw" style="left:180px;top:1076px;background:#4c95bb"></div><div class="lb" style="left:226px;top:1076px">$1.80 Mn</div>
<div class="sw" style="left:338.2px;top:1076px;background:#407eb2"></div><div class="lb" style="left:384.2px;top:1076px">$2.00 Mn</div>
<div class="sw" style="left:496.4px;top:1076px;background:#3564a6"></div><div class="lb" style="left:542.4px;top:1076px">$2.20 Mn</div>
<div class="sw" style="left:654.6px;top:1076px;background:#2e4d9b"></div><div class="lb" style="left:700.6px;top:1076px">$2.40 Mn</div>
<div class="sw" style="left:812.8px;top:1076px;background:#27398b"></div><div class="lb" style="left:858.8px;top:1076px">$2.60 Mn</div>
<div class="sw" style="left:971px;top:1076px;background:#1a2971"></div><div class="lb" style="left:1017px;top:1076px">$2.80 Mn</div>
<div class="sw" style="left:1129.2px;top:1076px;background:#0d1d55"></div><div class="lb" style="left:1175.2px;top:1076px">$3.00 Mn</div>
</body></html>
